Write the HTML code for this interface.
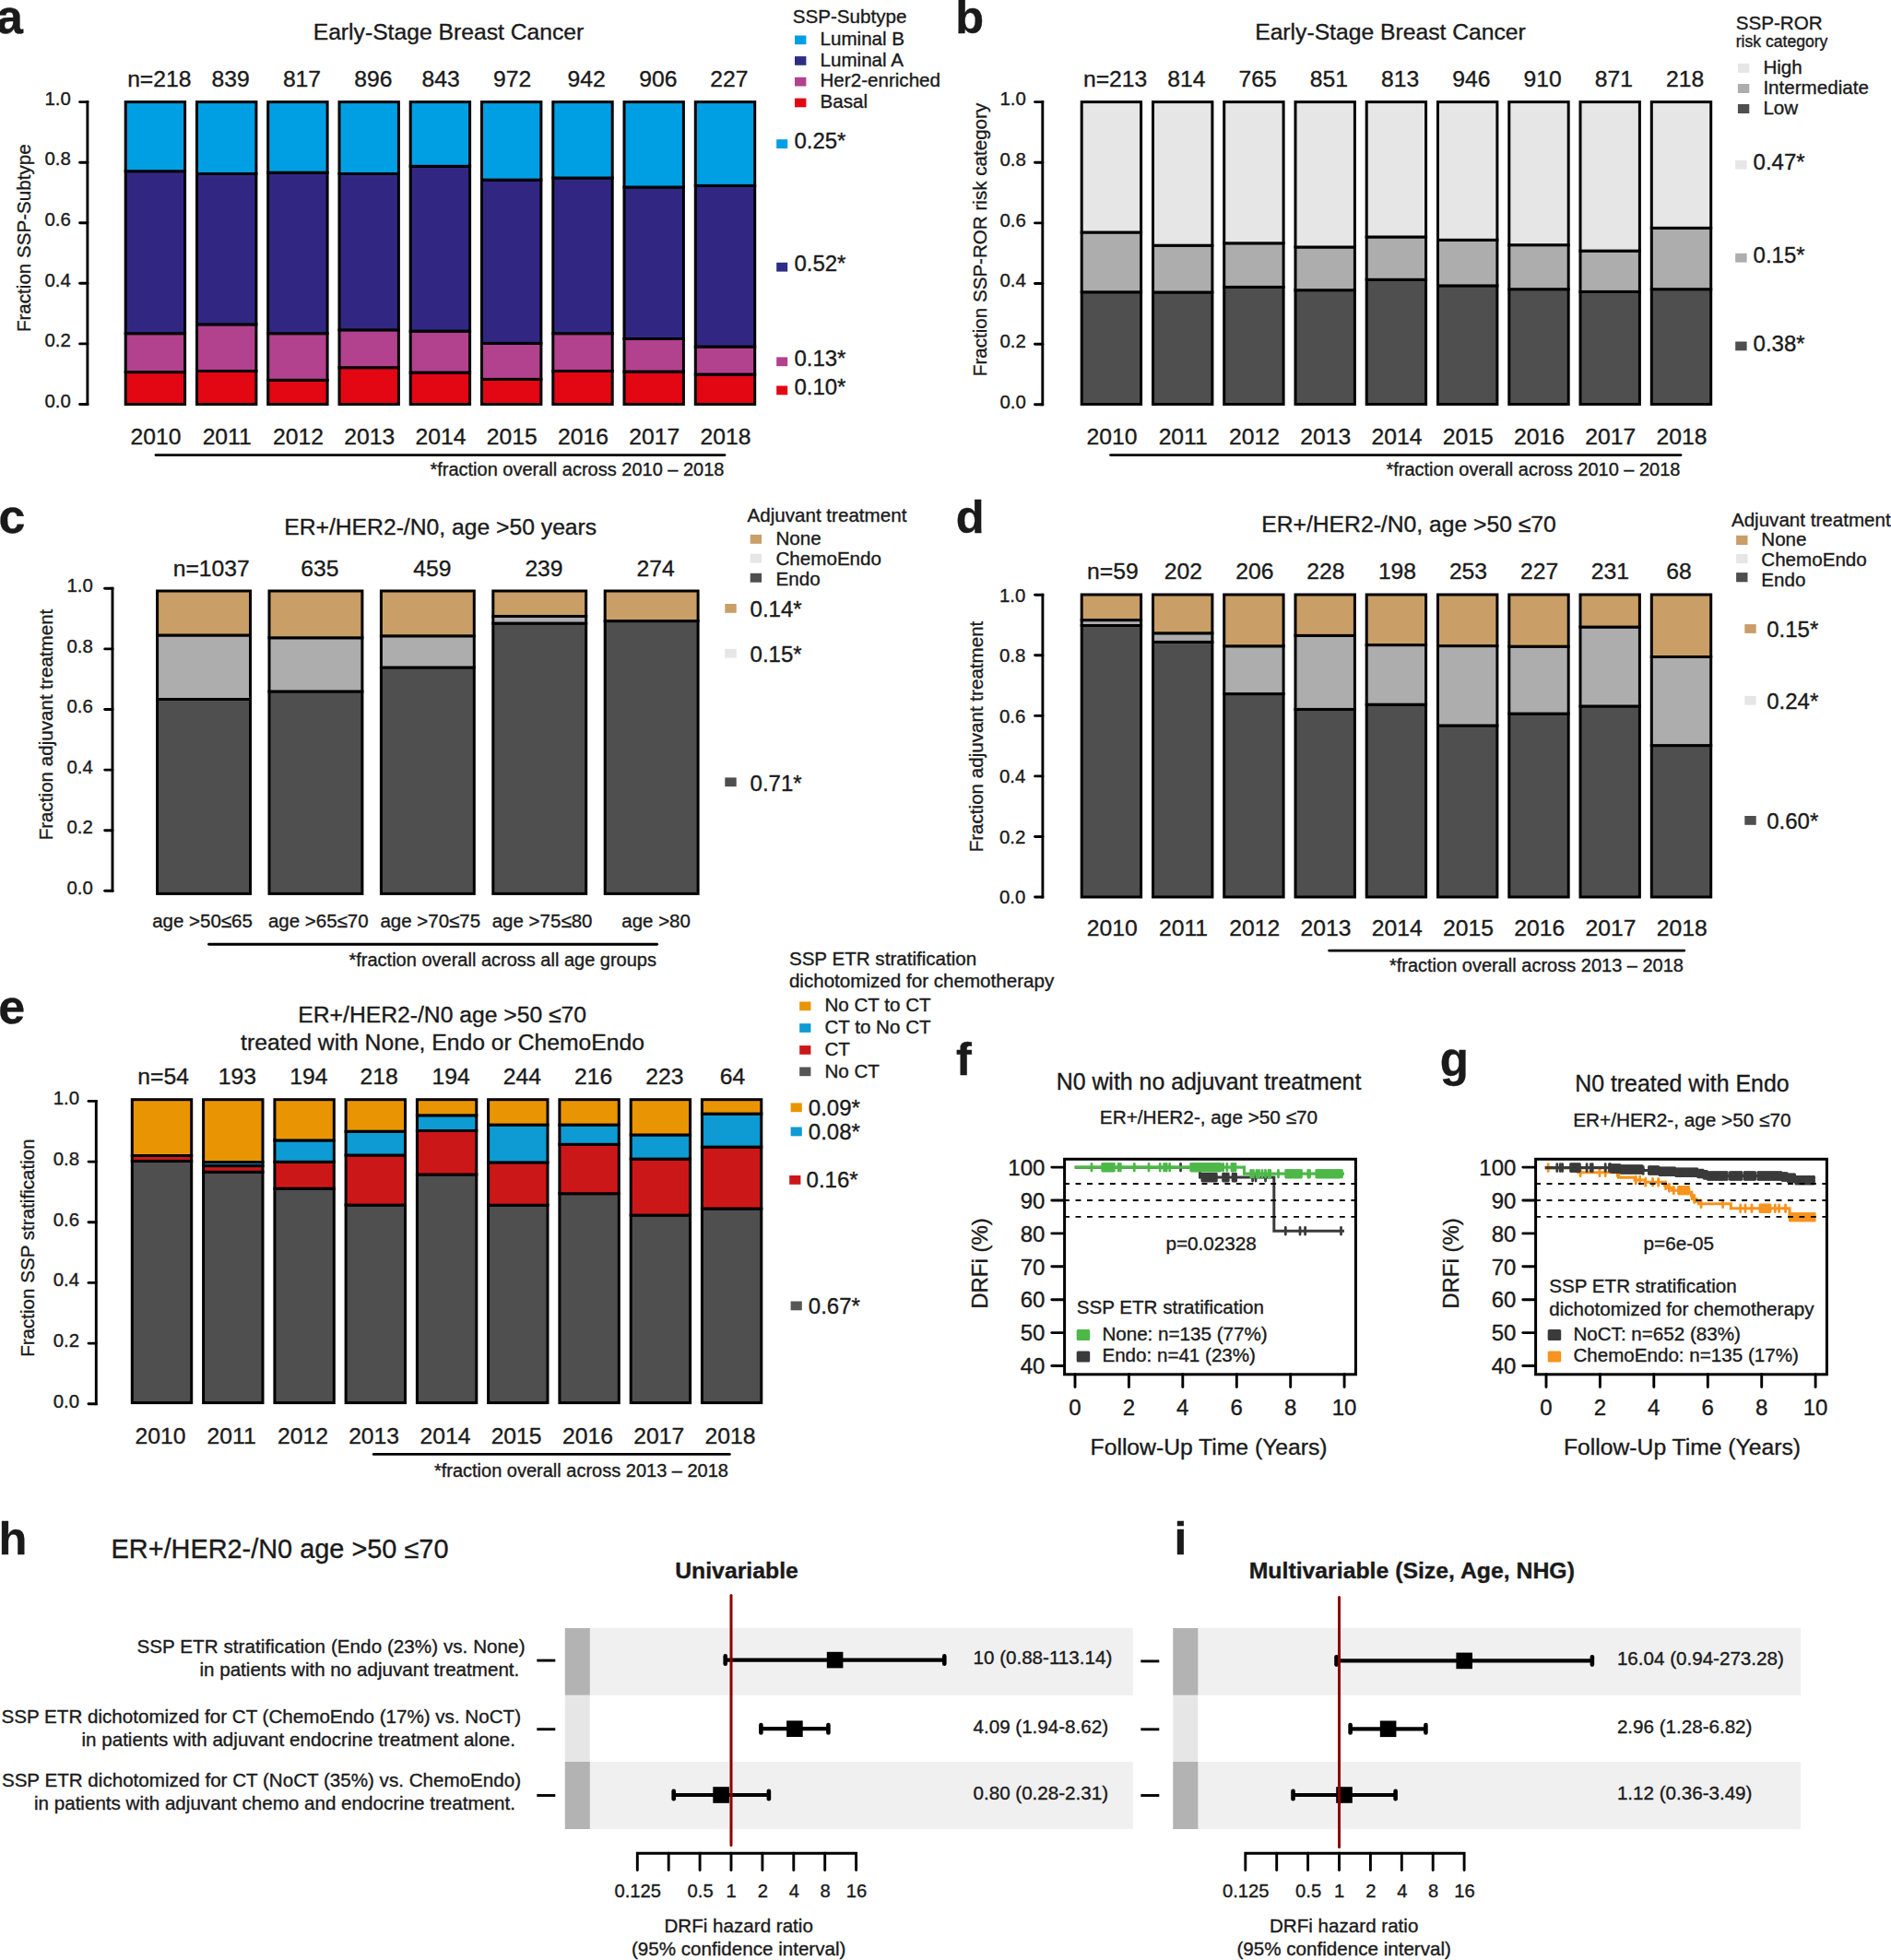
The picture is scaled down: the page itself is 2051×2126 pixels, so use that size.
<!DOCTYPE html>
<html lang="en"><head><meta charset="utf-8"><title>Figure</title>
<style>html,body{margin:0;padding:0;background:#fff;overflow:hidden}svg{display:block}text{stroke:#1a1a1a;stroke-width:.35px}</style></head>
<body>
<svg width="2051" height="2126" viewBox="0 0 2051 2126" font-family="'Liberation Sans', sans-serif" fill="#1a1a1a">
<text x="-4.0" y="36.0" font-size="52" font-weight="bold">a</text>
<text x="486.5" y="42.6" font-size="24.7" text-anchor="middle">Early-Stage Breast Cancer</text>
<rect x="136.2" y="403.6" width="64.4" height="34.9" fill="#E30613" stroke="#000" stroke-width="3"/>
<rect x="136.2" y="361.7" width="64.4" height="41.9" fill="#B2418E" stroke="#000" stroke-width="3"/>
<rect x="136.2" y="185.7" width="64.4" height="176.0" fill="#312783" stroke="#000" stroke-width="3"/>
<rect x="136.2" y="110.6" width="64.4" height="75.1" fill="#009FE3" stroke="#000" stroke-width="3"/>
<rect x="213.5" y="402.5" width="64.4" height="36.0" fill="#E30613" stroke="#000" stroke-width="3"/>
<rect x="213.5" y="351.9" width="64.4" height="50.6" fill="#B2418E" stroke="#000" stroke-width="3"/>
<rect x="213.5" y="188.5" width="64.4" height="163.4" fill="#312783" stroke="#000" stroke-width="3"/>
<rect x="213.5" y="110.6" width="64.4" height="77.9" fill="#009FE3" stroke="#000" stroke-width="3"/>
<rect x="290.7" y="412.3" width="64.4" height="26.2" fill="#E30613" stroke="#000" stroke-width="3"/>
<rect x="290.7" y="361.7" width="64.4" height="50.6" fill="#B2418E" stroke="#000" stroke-width="3"/>
<rect x="290.7" y="187.2" width="64.4" height="174.5" fill="#312783" stroke="#000" stroke-width="3"/>
<rect x="290.7" y="110.6" width="64.4" height="76.6" fill="#009FE3" stroke="#000" stroke-width="3"/>
<rect x="368.0" y="398.7" width="64.4" height="39.8" fill="#E30613" stroke="#000" stroke-width="3"/>
<rect x="368.0" y="357.9" width="64.4" height="40.8" fill="#B2418E" stroke="#000" stroke-width="3"/>
<rect x="368.0" y="188.5" width="64.4" height="169.4" fill="#312783" stroke="#000" stroke-width="3"/>
<rect x="368.0" y="110.6" width="64.4" height="77.9" fill="#009FE3" stroke="#000" stroke-width="3"/>
<rect x="445.2" y="404.1" width="64.4" height="34.4" fill="#E30613" stroke="#000" stroke-width="3"/>
<rect x="445.2" y="359.2" width="64.4" height="44.9" fill="#B2418E" stroke="#000" stroke-width="3"/>
<rect x="445.2" y="180.3" width="64.4" height="178.9" fill="#312783" stroke="#000" stroke-width="3"/>
<rect x="445.2" y="110.6" width="64.4" height="69.7" fill="#009FE3" stroke="#000" stroke-width="3"/>
<rect x="522.5" y="411.4" width="64.4" height="27.1" fill="#E30613" stroke="#000" stroke-width="3"/>
<rect x="522.5" y="372.4" width="64.4" height="39.0" fill="#B2418E" stroke="#000" stroke-width="3"/>
<rect x="522.5" y="195.1" width="64.4" height="177.3" fill="#312783" stroke="#000" stroke-width="3"/>
<rect x="522.5" y="110.6" width="64.4" height="84.5" fill="#009FE3" stroke="#000" stroke-width="3"/>
<rect x="599.8" y="402.5" width="64.4" height="36.0" fill="#E30613" stroke="#000" stroke-width="3"/>
<rect x="599.8" y="361.7" width="64.4" height="40.8" fill="#B2418E" stroke="#000" stroke-width="3"/>
<rect x="599.8" y="193.0" width="64.4" height="168.7" fill="#312783" stroke="#000" stroke-width="3"/>
<rect x="599.8" y="110.6" width="64.4" height="82.4" fill="#009FE3" stroke="#000" stroke-width="3"/>
<rect x="677.0" y="403.1" width="64.4" height="35.4" fill="#E30613" stroke="#000" stroke-width="3"/>
<rect x="677.0" y="367.5" width="64.4" height="35.6" fill="#B2418E" stroke="#000" stroke-width="3"/>
<rect x="677.0" y="203.0" width="64.4" height="164.5" fill="#312783" stroke="#000" stroke-width="3"/>
<rect x="677.0" y="110.6" width="64.4" height="92.4" fill="#009FE3" stroke="#000" stroke-width="3"/>
<rect x="754.3" y="406.1" width="64.4" height="32.4" fill="#E30613" stroke="#000" stroke-width="3"/>
<rect x="754.3" y="376.1" width="64.4" height="30.0" fill="#B2418E" stroke="#000" stroke-width="3"/>
<rect x="754.3" y="201.4" width="64.4" height="174.7" fill="#312783" stroke="#000" stroke-width="3"/>
<rect x="754.3" y="110.6" width="64.4" height="90.8" fill="#009FE3" stroke="#000" stroke-width="3"/>
<line x1="94.9" y1="109.1" x2="94.9" y2="439.9" stroke="#000" stroke-width="2.9"/>
<line x1="86.6" y1="438.5" x2="94.9" y2="438.5" stroke="#000" stroke-width="2.9" stroke-linecap="round"/>
<text x="76.9" y="441.7" font-size="20.4" text-anchor="end">0.0</text>
<line x1="86.6" y1="372.9" x2="94.9" y2="372.9" stroke="#000" stroke-width="2.9" stroke-linecap="round"/>
<text x="76.9" y="376.1" font-size="20.4" text-anchor="end">0.2</text>
<line x1="86.6" y1="307.3" x2="94.9" y2="307.3" stroke="#000" stroke-width="2.9" stroke-linecap="round"/>
<text x="76.9" y="310.5" font-size="20.4" text-anchor="end">0.4</text>
<line x1="86.6" y1="241.8" x2="94.9" y2="241.8" stroke="#000" stroke-width="2.9" stroke-linecap="round"/>
<text x="76.9" y="245.0" font-size="20.4" text-anchor="end">0.6</text>
<line x1="86.6" y1="176.2" x2="94.9" y2="176.2" stroke="#000" stroke-width="2.9" stroke-linecap="round"/>
<text x="76.9" y="179.4" font-size="20.4" text-anchor="end">0.8</text>
<line x1="86.6" y1="110.6" x2="94.9" y2="110.6" stroke="#000" stroke-width="2.9" stroke-linecap="round"/>
<text x="76.9" y="113.8" font-size="20.4" text-anchor="end">1.0</text>
<text x="33.5" y="258.2" font-size="20.6" text-anchor="middle" transform="rotate(-90 33.5 258.2)">Fraction SSP-Subtype</text>
<text x="172.8" y="94.0" font-size="24.7" text-anchor="middle">n=218</text>
<text x="168.9" y="481.7" font-size="24.7" text-anchor="middle">2010</text>
<text x="250.2" y="94.0" font-size="24.7" text-anchor="middle">839</text>
<text x="246.2" y="481.7" font-size="24.7" text-anchor="middle">2011</text>
<text x="327.5" y="94.0" font-size="24.7" text-anchor="middle">817</text>
<text x="323.4" y="481.7" font-size="24.7" text-anchor="middle">2012</text>
<text x="404.8" y="94.0" font-size="24.7" text-anchor="middle">896</text>
<text x="400.7" y="481.7" font-size="24.7" text-anchor="middle">2013</text>
<text x="478.2" y="94.0" font-size="24.7" text-anchor="middle">843</text>
<text x="477.9" y="481.7" font-size="24.7" text-anchor="middle">2014</text>
<text x="555.6" y="94.0" font-size="24.7" text-anchor="middle">972</text>
<text x="555.2" y="481.7" font-size="24.7" text-anchor="middle">2015</text>
<text x="636.2" y="94.0" font-size="24.7" text-anchor="middle">942</text>
<text x="632.5" y="481.7" font-size="24.7" text-anchor="middle">2016</text>
<text x="713.8" y="94.0" font-size="24.7" text-anchor="middle">906</text>
<text x="709.7" y="481.7" font-size="24.7" text-anchor="middle">2017</text>
<text x="790.8" y="94.0" font-size="24.7" text-anchor="middle">227</text>
<text x="787.0" y="481.7" font-size="24.7" text-anchor="middle">2018</text>
<line x1="169.0" y1="493.6" x2="786.0" y2="493.6" stroke="#000" stroke-width="2.9" stroke-linecap="round"/>
<text x="785.5" y="515.6" font-size="20" text-anchor="end">*fraction overall across 2010 – 2018</text>
<text x="859.8" y="25.3" font-size="20.6">SSP-Subtype</text>
<rect x="862.0" y="38.5" width="12.4" height="9.7" fill="#009FE3"/>
<text x="889.5" y="49.0" font-size="20.6">Luminal B</text>
<rect x="862.0" y="61.1" width="12.4" height="9.7" fill="#2D2E83"/>
<text x="889.5" y="71.7" font-size="20.6">Luminal A</text>
<rect x="862.0" y="83.8" width="12.4" height="9.7" fill="#B2418E"/>
<text x="889.5" y="94.4" font-size="20.6">Her2-enriched</text>
<rect x="862.0" y="106.6" width="12.4" height="9.7" fill="#E30613"/>
<text x="889.5" y="117.1" font-size="20.6">Basal</text>
<rect x="842.2" y="151.2" width="12.0" height="9.8" fill="#009FE3"/>
<text x="861.4" y="160.8" font-size="24">0.25*</text>
<rect x="842.2" y="284.8" width="12.0" height="9.8" fill="#2D2E83"/>
<text x="861.4" y="294.4" font-size="24">0.52*</text>
<rect x="842.2" y="387.4" width="12.0" height="9.8" fill="#B2418E"/>
<text x="861.4" y="397.0" font-size="24">0.13*</text>
<rect x="842.2" y="418.5" width="12.0" height="9.8" fill="#E30613"/>
<text x="861.4" y="428.1" font-size="24">0.10*</text>
<text x="1036.3" y="35.5" font-size="50.5" font-weight="bold">b</text>
<text x="1508.0" y="42.6" font-size="24.7" text-anchor="middle">Early-Stage Breast Cancer</text>
<rect x="1173.2" y="316.8" width="64.4" height="121.7" fill="#4F4F4F" stroke="#000" stroke-width="3"/>
<rect x="1173.2" y="252.0" width="64.4" height="64.8" fill="#ADADAD" stroke="#000" stroke-width="3"/>
<rect x="1173.2" y="110.6" width="64.4" height="141.4" fill="#E6E6E6" stroke="#000" stroke-width="3"/>
<rect x="1250.5" y="317.0" width="64.4" height="121.5" fill="#4F4F4F" stroke="#000" stroke-width="3"/>
<rect x="1250.5" y="266.2" width="64.4" height="50.8" fill="#ADADAD" stroke="#000" stroke-width="3"/>
<rect x="1250.5" y="110.6" width="64.4" height="155.6" fill="#E6E6E6" stroke="#000" stroke-width="3"/>
<rect x="1327.7" y="311.4" width="64.4" height="127.1" fill="#4F4F4F" stroke="#000" stroke-width="3"/>
<rect x="1327.7" y="263.8" width="64.4" height="47.6" fill="#ADADAD" stroke="#000" stroke-width="3"/>
<rect x="1327.7" y="110.6" width="64.4" height="153.2" fill="#E6E6E6" stroke="#000" stroke-width="3"/>
<rect x="1405.0" y="314.7" width="64.4" height="123.8" fill="#4F4F4F" stroke="#000" stroke-width="3"/>
<rect x="1405.0" y="268.0" width="64.4" height="46.7" fill="#ADADAD" stroke="#000" stroke-width="3"/>
<rect x="1405.0" y="110.6" width="64.4" height="157.4" fill="#E6E6E6" stroke="#000" stroke-width="3"/>
<rect x="1482.2" y="303.3" width="64.4" height="135.2" fill="#4F4F4F" stroke="#000" stroke-width="3"/>
<rect x="1482.2" y="257.0" width="64.4" height="46.3" fill="#ADADAD" stroke="#000" stroke-width="3"/>
<rect x="1482.2" y="110.6" width="64.4" height="146.4" fill="#E6E6E6" stroke="#000" stroke-width="3"/>
<rect x="1559.5" y="309.9" width="64.4" height="128.6" fill="#4F4F4F" stroke="#000" stroke-width="3"/>
<rect x="1559.5" y="260.3" width="64.4" height="49.6" fill="#ADADAD" stroke="#000" stroke-width="3"/>
<rect x="1559.5" y="110.6" width="64.4" height="149.7" fill="#E6E6E6" stroke="#000" stroke-width="3"/>
<rect x="1636.8" y="313.7" width="64.4" height="124.8" fill="#4F4F4F" stroke="#000" stroke-width="3"/>
<rect x="1636.8" y="265.7" width="64.4" height="48.0" fill="#ADADAD" stroke="#000" stroke-width="3"/>
<rect x="1636.8" y="110.6" width="64.4" height="155.1" fill="#E6E6E6" stroke="#000" stroke-width="3"/>
<rect x="1714.0" y="316.4" width="64.4" height="122.1" fill="#4F4F4F" stroke="#000" stroke-width="3"/>
<rect x="1714.0" y="272.1" width="64.4" height="44.3" fill="#ADADAD" stroke="#000" stroke-width="3"/>
<rect x="1714.0" y="110.6" width="64.4" height="161.5" fill="#E6E6E6" stroke="#000" stroke-width="3"/>
<rect x="1791.3" y="313.7" width="64.4" height="124.8" fill="#4F4F4F" stroke="#000" stroke-width="3"/>
<rect x="1791.3" y="247.3" width="64.4" height="66.4" fill="#ADADAD" stroke="#000" stroke-width="3"/>
<rect x="1791.3" y="110.6" width="64.4" height="136.7" fill="#E6E6E6" stroke="#000" stroke-width="3"/>
<line x1="1130.8" y1="109.1" x2="1130.8" y2="440.2" stroke="#000" stroke-width="2.9"/>
<line x1="1122.5" y1="438.8" x2="1130.8" y2="438.8" stroke="#000" stroke-width="2.9" stroke-linecap="round"/>
<text x="1112.8" y="442.6" font-size="20.4" text-anchor="end">0.0</text>
<line x1="1122.5" y1="373.2" x2="1130.8" y2="373.2" stroke="#000" stroke-width="2.9" stroke-linecap="round"/>
<text x="1112.8" y="377.0" font-size="20.4" text-anchor="end">0.2</text>
<line x1="1122.5" y1="307.5" x2="1130.8" y2="307.5" stroke="#000" stroke-width="2.9" stroke-linecap="round"/>
<text x="1112.8" y="311.3" font-size="20.4" text-anchor="end">0.4</text>
<line x1="1122.5" y1="241.9" x2="1130.8" y2="241.9" stroke="#000" stroke-width="2.9" stroke-linecap="round"/>
<text x="1112.8" y="245.7" font-size="20.4" text-anchor="end">0.6</text>
<line x1="1122.5" y1="176.2" x2="1130.8" y2="176.2" stroke="#000" stroke-width="2.9" stroke-linecap="round"/>
<text x="1112.8" y="180.0" font-size="20.4" text-anchor="end">0.8</text>
<line x1="1122.5" y1="110.6" x2="1130.8" y2="110.6" stroke="#000" stroke-width="2.9" stroke-linecap="round"/>
<text x="1112.8" y="114.4" font-size="20.4" text-anchor="end">1.0</text>
<text x="1069.5" y="260.0" font-size="20.6" text-anchor="middle" transform="rotate(-90 1069.5 260.0)">Fraction SSP-ROR risk category</text>
<text x="1209.6" y="94.0" font-size="24.7" text-anchor="middle">n=213</text>
<text x="1205.9" y="481.7" font-size="24.7" text-anchor="middle">2010</text>
<text x="1286.9" y="94.0" font-size="24.7" text-anchor="middle">814</text>
<text x="1283.2" y="481.7" font-size="24.7" text-anchor="middle">2011</text>
<text x="1364.1" y="94.0" font-size="24.7" text-anchor="middle">765</text>
<text x="1360.4" y="481.7" font-size="24.7" text-anchor="middle">2012</text>
<text x="1441.4" y="94.0" font-size="24.7" text-anchor="middle">851</text>
<text x="1437.7" y="481.7" font-size="24.7" text-anchor="middle">2013</text>
<text x="1518.6" y="94.0" font-size="24.7" text-anchor="middle">813</text>
<text x="1514.9" y="481.7" font-size="24.7" text-anchor="middle">2014</text>
<text x="1595.9" y="94.0" font-size="24.7" text-anchor="middle">946</text>
<text x="1592.2" y="481.7" font-size="24.7" text-anchor="middle">2015</text>
<text x="1673.2" y="94.0" font-size="24.7" text-anchor="middle">910</text>
<text x="1669.5" y="481.7" font-size="24.7" text-anchor="middle">2016</text>
<text x="1750.4" y="94.0" font-size="24.7" text-anchor="middle">871</text>
<text x="1746.7" y="481.7" font-size="24.7" text-anchor="middle">2017</text>
<text x="1827.7" y="94.0" font-size="24.7" text-anchor="middle">218</text>
<text x="1824.0" y="481.7" font-size="24.7" text-anchor="middle">2018</text>
<line x1="1204.6" y1="493.6" x2="1823.0" y2="493.6" stroke="#000" stroke-width="2.9" stroke-linecap="round"/>
<text x="1822.5" y="515.6" font-size="20" text-anchor="end">*fraction overall across 2010 – 2018</text>
<text x="1882.7" y="31.5" font-size="20.6">SSP-ROR</text>
<text x="1882.7" y="51.4" font-size="17.6">risk category</text>
<rect x="1884.9" y="68.9" width="12.4" height="10.0" fill="#E6E6E6"/>
<text x="1912.4" y="79.8" font-size="20.6">High</text>
<rect x="1884.9" y="91.0" width="12.4" height="10.0" fill="#ADADAD"/>
<text x="1912.4" y="101.9" font-size="20.6">Intermediate</text>
<rect x="1884.9" y="113.0" width="12.4" height="10.0" fill="#4F4F4F"/>
<text x="1912.4" y="124.0" font-size="20.6">Low</text>
<rect x="1882.2" y="173.8" width="12.4" height="9.8" fill="#E6E6E6"/>
<text x="1901.6" y="184.1" font-size="24">0.47*</text>
<rect x="1882.2" y="274.8" width="12.4" height="9.8" fill="#ADADAD"/>
<text x="1901.6" y="285.1" font-size="24">0.15*</text>
<rect x="1882.2" y="370.5" width="12.4" height="9.8" fill="#4F4F4F"/>
<text x="1901.6" y="380.8" font-size="24">0.38*</text>
<text x="-1.5" y="578.4" font-size="52" font-weight="bold">c</text>
<text x="477.7" y="580.0" font-size="24.7" text-anchor="middle">ER+/HER2-/N0, age &gt;50 years</text>
<rect x="170.6" y="758.5" width="100.9" height="210.9" fill="#4F4F4F" stroke="#000" stroke-width="3"/>
<rect x="170.6" y="689.0" width="100.9" height="69.5" fill="#ADADAD" stroke="#000" stroke-width="3"/>
<rect x="170.6" y="641.0" width="100.9" height="48.0" fill="#C99E67" stroke="#000" stroke-width="3"/>
<rect x="292.0" y="750.0" width="100.9" height="219.4" fill="#4F4F4F" stroke="#000" stroke-width="3"/>
<rect x="292.0" y="691.8" width="100.9" height="58.2" fill="#ADADAD" stroke="#000" stroke-width="3"/>
<rect x="292.0" y="641.0" width="100.9" height="50.8" fill="#C99E67" stroke="#000" stroke-width="3"/>
<rect x="413.4" y="724.0" width="100.9" height="245.4" fill="#4F4F4F" stroke="#000" stroke-width="3"/>
<rect x="413.4" y="689.8" width="100.9" height="34.2" fill="#ADADAD" stroke="#000" stroke-width="3"/>
<rect x="413.4" y="641.0" width="100.9" height="48.8" fill="#C99E67" stroke="#000" stroke-width="3"/>
<rect x="534.8" y="676.1" width="100.9" height="293.3" fill="#4F4F4F" stroke="#000" stroke-width="3"/>
<rect x="534.8" y="668.5" width="100.9" height="7.6" fill="#ADADAD" stroke="#000" stroke-width="3"/>
<rect x="534.8" y="641.0" width="100.9" height="27.5" fill="#C99E67" stroke="#000" stroke-width="3"/>
<rect x="656.2" y="673.6" width="100.9" height="295.8" fill="#4F4F4F" stroke="#000" stroke-width="3"/>
<rect x="656.2" y="641.0" width="100.9" height="32.6" fill="#C99E67" stroke="#000" stroke-width="3"/>
<line x1="122.0" y1="636.8" x2="122.0" y2="967.8" stroke="#000" stroke-width="2.9"/>
<line x1="113.7" y1="966.3" x2="122.0" y2="966.3" stroke="#000" stroke-width="2.9" stroke-linecap="round"/>
<text x="100.8" y="969.9" font-size="20.4" text-anchor="end">0.0</text>
<line x1="113.7" y1="900.7" x2="122.0" y2="900.7" stroke="#000" stroke-width="2.9" stroke-linecap="round"/>
<text x="100.8" y="904.3" font-size="20.4" text-anchor="end">0.2</text>
<line x1="113.7" y1="835.1" x2="122.0" y2="835.1" stroke="#000" stroke-width="2.9" stroke-linecap="round"/>
<text x="100.8" y="838.7" font-size="20.4" text-anchor="end">0.4</text>
<line x1="113.7" y1="769.5" x2="122.0" y2="769.5" stroke="#000" stroke-width="2.9" stroke-linecap="round"/>
<text x="100.8" y="773.1" font-size="20.4" text-anchor="end">0.6</text>
<line x1="113.7" y1="703.9" x2="122.0" y2="703.9" stroke="#000" stroke-width="2.9" stroke-linecap="round"/>
<text x="100.8" y="707.5" font-size="20.4" text-anchor="end">0.8</text>
<line x1="113.7" y1="638.3" x2="122.0" y2="638.3" stroke="#000" stroke-width="2.9" stroke-linecap="round"/>
<text x="100.8" y="641.9" font-size="20.4" text-anchor="end">1.0</text>
<text x="56.5" y="786.0" font-size="20.6" text-anchor="middle" transform="rotate(-90 56.5 786.0)">Fraction adjuvant treatment</text>
<text x="229.2" y="624.5" font-size="24.7" text-anchor="middle">n=1037</text>
<text x="219.5" y="1005.6" font-size="20.5" text-anchor="middle">age &gt;50≤65</text>
<text x="346.8" y="624.5" font-size="24.7" text-anchor="middle">635</text>
<text x="345.3" y="1005.6" font-size="20.5" text-anchor="middle">age &gt;65≤70</text>
<text x="468.9" y="624.5" font-size="24.7" text-anchor="middle">459</text>
<text x="466.8" y="1005.6" font-size="20.5" text-anchor="middle">age &gt;70≤75</text>
<text x="590.0" y="624.5" font-size="24.7" text-anchor="middle">239</text>
<text x="588.1" y="1005.6" font-size="20.5" text-anchor="middle">age &gt;75≤80</text>
<text x="711.2" y="624.5" font-size="24.7" text-anchor="middle">274</text>
<text x="711.6" y="1005.6" font-size="20.5" text-anchor="middle">age &gt;80</text>
<line x1="226.6" y1="1024.3" x2="712.6" y2="1024.3" stroke="#000" stroke-width="2.9" stroke-linecap="round"/>
<text x="712.0" y="1048.0" font-size="20" text-anchor="end">*fraction overall across all age groups</text>
<text x="810.5" y="565.8" font-size="20.6">Adjuvant treatment</text>
<rect x="813.7" y="579.9" width="12.4" height="9.9" fill="#C99E67"/>
<text x="841.5" y="590.7" font-size="20.6">None</text>
<rect x="813.7" y="600.7" width="12.4" height="9.9" fill="#E6E6E6"/>
<text x="841.5" y="612.8" font-size="20.6">ChemoEndo</text>
<rect x="813.7" y="621.8" width="12.4" height="9.9" fill="#4F4F4F"/>
<text x="841.5" y="634.8" font-size="20.6">Endo</text>
<rect x="786.3" y="655.0" width="12.4" height="9.8" fill="#C99E67"/>
<text x="813.6" y="669.3" font-size="24">0.14*</text>
<rect x="786.3" y="703.8" width="12.4" height="9.8" fill="#E6E6E6"/>
<text x="813.6" y="718.1" font-size="24">0.15*</text>
<rect x="786.3" y="843.4" width="12.4" height="9.8" fill="#4F4F4F"/>
<text x="813.6" y="857.7" font-size="24">0.71*</text>
<text x="1036.7" y="577.7" font-size="50.5" font-weight="bold">d</text>
<text x="1528.0" y="576.8" font-size="24.7" text-anchor="middle">ER+/HER2-/N0, age &gt;50 ≤70</text>
<rect x="1173.2" y="678.5" width="64.4" height="294.5" fill="#4F4F4F" stroke="#000" stroke-width="3"/>
<rect x="1173.2" y="672.6" width="64.4" height="5.9" fill="#ADADAD" stroke="#000" stroke-width="3"/>
<rect x="1173.2" y="645.0" width="64.4" height="27.6" fill="#C99E67" stroke="#000" stroke-width="3"/>
<rect x="1250.5" y="696.4" width="64.4" height="276.6" fill="#4F4F4F" stroke="#000" stroke-width="3"/>
<rect x="1250.5" y="686.8" width="64.4" height="9.6" fill="#ADADAD" stroke="#000" stroke-width="3"/>
<rect x="1250.5" y="645.0" width="64.4" height="41.8" fill="#C99E67" stroke="#000" stroke-width="3"/>
<rect x="1327.7" y="752.6" width="64.4" height="220.4" fill="#4F4F4F" stroke="#000" stroke-width="3"/>
<rect x="1327.7" y="700.8" width="64.4" height="51.8" fill="#ADADAD" stroke="#000" stroke-width="3"/>
<rect x="1327.7" y="645.0" width="64.4" height="55.8" fill="#C99E67" stroke="#000" stroke-width="3"/>
<rect x="1405.0" y="769.4" width="64.4" height="203.6" fill="#4F4F4F" stroke="#000" stroke-width="3"/>
<rect x="1405.0" y="689.4" width="64.4" height="80.0" fill="#ADADAD" stroke="#000" stroke-width="3"/>
<rect x="1405.0" y="645.0" width="64.4" height="44.4" fill="#C99E67" stroke="#000" stroke-width="3"/>
<rect x="1482.2" y="764.2" width="64.4" height="208.8" fill="#4F4F4F" stroke="#000" stroke-width="3"/>
<rect x="1482.2" y="699.6" width="64.4" height="64.6" fill="#ADADAD" stroke="#000" stroke-width="3"/>
<rect x="1482.2" y="645.0" width="64.4" height="54.6" fill="#C99E67" stroke="#000" stroke-width="3"/>
<rect x="1559.5" y="787.0" width="64.4" height="186.0" fill="#4F4F4F" stroke="#000" stroke-width="3"/>
<rect x="1559.5" y="700.6" width="64.4" height="86.4" fill="#ADADAD" stroke="#000" stroke-width="3"/>
<rect x="1559.5" y="645.0" width="64.4" height="55.6" fill="#C99E67" stroke="#000" stroke-width="3"/>
<rect x="1636.8" y="774.1" width="64.4" height="198.9" fill="#4F4F4F" stroke="#000" stroke-width="3"/>
<rect x="1636.8" y="701.2" width="64.4" height="72.9" fill="#ADADAD" stroke="#000" stroke-width="3"/>
<rect x="1636.8" y="645.0" width="64.4" height="56.2" fill="#C99E67" stroke="#000" stroke-width="3"/>
<rect x="1714.0" y="766.0" width="64.4" height="207.0" fill="#4F4F4F" stroke="#000" stroke-width="3"/>
<rect x="1714.0" y="680.1" width="64.4" height="85.9" fill="#ADADAD" stroke="#000" stroke-width="3"/>
<rect x="1714.0" y="645.0" width="64.4" height="35.1" fill="#C99E67" stroke="#000" stroke-width="3"/>
<rect x="1791.3" y="808.6" width="64.4" height="164.4" fill="#4F4F4F" stroke="#000" stroke-width="3"/>
<rect x="1791.3" y="712.5" width="64.4" height="96.1" fill="#ADADAD" stroke="#000" stroke-width="3"/>
<rect x="1791.3" y="645.0" width="64.4" height="67.5" fill="#C99E67" stroke="#000" stroke-width="3"/>
<line x1="1130.9" y1="643.8" x2="1130.9" y2="974.5" stroke="#000" stroke-width="2.9"/>
<line x1="1122.6" y1="973.0" x2="1130.9" y2="973.0" stroke="#000" stroke-width="2.9" stroke-linecap="round"/>
<text x="1112.3" y="980.4" font-size="20.4" text-anchor="end">0.0</text>
<line x1="1122.6" y1="907.5" x2="1130.9" y2="907.5" stroke="#000" stroke-width="2.9" stroke-linecap="round"/>
<text x="1112.3" y="914.9" font-size="20.4" text-anchor="end">0.2</text>
<line x1="1122.6" y1="841.9" x2="1130.9" y2="841.9" stroke="#000" stroke-width="2.9" stroke-linecap="round"/>
<text x="1112.3" y="849.3" font-size="20.4" text-anchor="end">0.4</text>
<line x1="1122.6" y1="776.4" x2="1130.9" y2="776.4" stroke="#000" stroke-width="2.9" stroke-linecap="round"/>
<text x="1112.3" y="783.8" font-size="20.4" text-anchor="end">0.6</text>
<line x1="1122.6" y1="710.8" x2="1130.9" y2="710.8" stroke="#000" stroke-width="2.9" stroke-linecap="round"/>
<text x="1112.3" y="718.2" font-size="20.4" text-anchor="end">0.8</text>
<line x1="1122.6" y1="645.3" x2="1130.9" y2="645.3" stroke="#000" stroke-width="2.9" stroke-linecap="round"/>
<text x="1112.3" y="652.7" font-size="20.4" text-anchor="end">1.0</text>
<text x="1066.3" y="799.0" font-size="20.6" text-anchor="middle" transform="rotate(-90 1066.3 799.0)">Fraction adjuvant treatment</text>
<text x="1206.9" y="627.8" font-size="24.7" text-anchor="middle">n=59</text>
<text x="1206.2" y="1014.6" font-size="24.7" text-anchor="middle">2010</text>
<text x="1283.4" y="627.8" font-size="24.7" text-anchor="middle">202</text>
<text x="1283.5" y="1014.6" font-size="24.7" text-anchor="middle">2011</text>
<text x="1360.8" y="627.8" font-size="24.7" text-anchor="middle">206</text>
<text x="1360.7" y="1014.6" font-size="24.7" text-anchor="middle">2012</text>
<text x="1437.8" y="627.8" font-size="24.7" text-anchor="middle">228</text>
<text x="1438.0" y="1014.6" font-size="24.7" text-anchor="middle">2013</text>
<text x="1515.5" y="627.8" font-size="24.7" text-anchor="middle">198</text>
<text x="1515.2" y="1014.6" font-size="24.7" text-anchor="middle">2014</text>
<text x="1592.5" y="627.8" font-size="24.7" text-anchor="middle">253</text>
<text x="1592.5" y="1014.6" font-size="24.7" text-anchor="middle">2015</text>
<text x="1669.7" y="627.8" font-size="24.7" text-anchor="middle">227</text>
<text x="1669.8" y="1014.6" font-size="24.7" text-anchor="middle">2016</text>
<text x="1746.3" y="627.8" font-size="24.7" text-anchor="middle">231</text>
<text x="1747.0" y="1014.6" font-size="24.7" text-anchor="middle">2017</text>
<text x="1821.1" y="627.8" font-size="24.7" text-anchor="middle">68</text>
<text x="1824.3" y="1014.6" font-size="24.7" text-anchor="middle">2018</text>
<line x1="1441.6" y1="1031.1" x2="1826.8" y2="1031.1" stroke="#000" stroke-width="2.9" stroke-linecap="round"/>
<text x="1826.0" y="1053.8" font-size="20" text-anchor="end">*fraction overall across 2013 – 2018</text>
<text x="1877.9" y="570.6" font-size="20.6">Adjuvant treatment</text>
<rect x="1883.1" y="580.8" width="12.4" height="10.2" fill="#C99E67"/>
<text x="1910.3" y="592.2" font-size="20.6">None</text>
<rect x="1883.1" y="600.9" width="12.4" height="10.2" fill="#E6E6E6"/>
<text x="1910.3" y="614.3" font-size="20.6">ChemoEndo</text>
<rect x="1883.1" y="621.1" width="12.4" height="10.2" fill="#4F4F4F"/>
<text x="1910.3" y="636.4" font-size="20.6">Endo</text>
<rect x="1892.3" y="677.1" width="12.4" height="9.8" fill="#C99E67"/>
<text x="1916.2" y="691.4" font-size="24">0.15*</text>
<rect x="1892.3" y="754.9" width="12.4" height="9.8" fill="#E6E6E6"/>
<text x="1916.2" y="769.2" font-size="24">0.24*</text>
<rect x="1892.3" y="885.0" width="12.4" height="9.8" fill="#4F4F4F"/>
<text x="1916.2" y="899.3" font-size="24">0.60*</text>
<text x="-1.7" y="1109.5" font-size="52" font-weight="bold">e</text>
<text x="479.7" y="1109.0" font-size="24.7" text-anchor="middle">ER+/HER2-/N0 age &gt;50 ≤70</text>
<text x="480.0" y="1138.5" font-size="24.7" text-anchor="middle">treated with None, Endo or ChemoEndo</text>
<rect x="143.3" y="1259.5" width="64.4" height="262.1" fill="#4F4F4F" stroke="#000" stroke-width="3"/>
<rect x="143.3" y="1253.5" width="64.4" height="6.0" fill="#CC1719" stroke="#000" stroke-width="3"/>
<rect x="143.3" y="1192.7" width="64.4" height="60.8" fill="#E99503" stroke="#000" stroke-width="3"/>
<rect x="220.6" y="1271.2" width="64.4" height="250.4" fill="#4F4F4F" stroke="#000" stroke-width="3"/>
<rect x="220.6" y="1264.6" width="64.4" height="6.6" fill="#CC1719" stroke="#000" stroke-width="3"/>
<rect x="220.6" y="1260.6" width="64.4" height="4.0" fill="#0E9AD2" stroke="#000" stroke-width="3"/>
<rect x="220.6" y="1192.7" width="64.4" height="67.9" fill="#E99503" stroke="#000" stroke-width="3"/>
<rect x="297.9" y="1289.2" width="64.4" height="232.4" fill="#4F4F4F" stroke="#000" stroke-width="3"/>
<rect x="297.9" y="1260.3" width="64.4" height="28.9" fill="#CC1719" stroke="#000" stroke-width="3"/>
<rect x="297.9" y="1236.9" width="64.4" height="23.4" fill="#0E9AD2" stroke="#000" stroke-width="3"/>
<rect x="297.9" y="1192.7" width="64.4" height="44.2" fill="#E99503" stroke="#000" stroke-width="3"/>
<rect x="375.1" y="1307.1" width="64.4" height="214.5" fill="#4F4F4F" stroke="#000" stroke-width="3"/>
<rect x="375.1" y="1253.0" width="64.4" height="54.1" fill="#CC1719" stroke="#000" stroke-width="3"/>
<rect x="375.1" y="1227.2" width="64.4" height="25.8" fill="#0E9AD2" stroke="#000" stroke-width="3"/>
<rect x="375.1" y="1192.7" width="64.4" height="34.5" fill="#E99503" stroke="#000" stroke-width="3"/>
<rect x="452.4" y="1274.0" width="64.4" height="247.6" fill="#4F4F4F" stroke="#000" stroke-width="3"/>
<rect x="452.4" y="1226.5" width="64.4" height="47.5" fill="#CC1719" stroke="#000" stroke-width="3"/>
<rect x="452.4" y="1209.8" width="64.4" height="16.7" fill="#0E9AD2" stroke="#000" stroke-width="3"/>
<rect x="452.4" y="1192.7" width="64.4" height="17.1" fill="#E99503" stroke="#000" stroke-width="3"/>
<rect x="529.6" y="1307.2" width="64.4" height="214.4" fill="#4F4F4F" stroke="#000" stroke-width="3"/>
<rect x="529.6" y="1260.9" width="64.4" height="46.3" fill="#CC1719" stroke="#000" stroke-width="3"/>
<rect x="529.6" y="1220.1" width="64.4" height="40.8" fill="#0E9AD2" stroke="#000" stroke-width="3"/>
<rect x="529.6" y="1192.7" width="64.4" height="27.4" fill="#E99503" stroke="#000" stroke-width="3"/>
<rect x="606.9" y="1294.7" width="64.4" height="226.9" fill="#4F4F4F" stroke="#000" stroke-width="3"/>
<rect x="606.9" y="1241.3" width="64.4" height="53.4" fill="#CC1719" stroke="#000" stroke-width="3"/>
<rect x="606.9" y="1220.1" width="64.4" height="21.2" fill="#0E9AD2" stroke="#000" stroke-width="3"/>
<rect x="606.9" y="1192.7" width="64.4" height="27.4" fill="#E99503" stroke="#000" stroke-width="3"/>
<rect x="684.2" y="1318.1" width="64.4" height="203.5" fill="#4F4F4F" stroke="#000" stroke-width="3"/>
<rect x="684.2" y="1257.1" width="64.4" height="61.0" fill="#CC1719" stroke="#000" stroke-width="3"/>
<rect x="684.2" y="1231.0" width="64.4" height="26.1" fill="#0E9AD2" stroke="#000" stroke-width="3"/>
<rect x="684.2" y="1192.7" width="64.4" height="38.3" fill="#E99503" stroke="#000" stroke-width="3"/>
<rect x="761.4" y="1311.0" width="64.4" height="210.6" fill="#4F4F4F" stroke="#000" stroke-width="3"/>
<rect x="761.4" y="1244.1" width="64.4" height="66.9" fill="#CC1719" stroke="#000" stroke-width="3"/>
<rect x="761.4" y="1208.1" width="64.4" height="36.0" fill="#0E9AD2" stroke="#000" stroke-width="3"/>
<rect x="761.4" y="1192.7" width="64.4" height="15.4" fill="#E99503" stroke="#000" stroke-width="3"/>
<line x1="104.3" y1="1193.0" x2="104.3" y2="1524.2" stroke="#000" stroke-width="2.9"/>
<line x1="96.0" y1="1522.8" x2="104.3" y2="1522.8" stroke="#000" stroke-width="2.9" stroke-linecap="round"/>
<text x="86.0" y="1526.6" font-size="20.4" text-anchor="end">0.0</text>
<line x1="96.0" y1="1457.1" x2="104.3" y2="1457.1" stroke="#000" stroke-width="2.9" stroke-linecap="round"/>
<text x="86.0" y="1460.9" font-size="20.4" text-anchor="end">0.2</text>
<line x1="96.0" y1="1391.4" x2="104.3" y2="1391.4" stroke="#000" stroke-width="2.9" stroke-linecap="round"/>
<text x="86.0" y="1395.2" font-size="20.4" text-anchor="end">0.4</text>
<line x1="96.0" y1="1325.8" x2="104.3" y2="1325.8" stroke="#000" stroke-width="2.9" stroke-linecap="round"/>
<text x="86.0" y="1329.6" font-size="20.4" text-anchor="end">0.6</text>
<line x1="96.0" y1="1260.1" x2="104.3" y2="1260.1" stroke="#000" stroke-width="2.9" stroke-linecap="round"/>
<text x="86.0" y="1263.9" font-size="20.4" text-anchor="end">0.8</text>
<line x1="96.0" y1="1194.4" x2="104.3" y2="1194.4" stroke="#000" stroke-width="2.9" stroke-linecap="round"/>
<text x="86.0" y="1198.2" font-size="20.4" text-anchor="end">1.0</text>
<text x="37.3" y="1353.6" font-size="20.6" text-anchor="middle" transform="rotate(-90 37.3 1353.6)">Fraction SSP stratification</text>
<text x="177.1" y="1176.0" font-size="24.7" text-anchor="middle">n=54</text>
<text x="173.9" y="1566.2" font-size="24.7" text-anchor="middle">2010</text>
<text x="257.4" y="1176.0" font-size="24.7" text-anchor="middle">193</text>
<text x="251.1" y="1566.2" font-size="24.7" text-anchor="middle">2011</text>
<text x="334.9" y="1176.0" font-size="24.7" text-anchor="middle">194</text>
<text x="328.4" y="1566.2" font-size="24.7" text-anchor="middle">2012</text>
<text x="411.1" y="1176.0" font-size="24.7" text-anchor="middle">218</text>
<text x="405.6" y="1566.2" font-size="24.7" text-anchor="middle">2013</text>
<text x="489.2" y="1176.0" font-size="24.7" text-anchor="middle">194</text>
<text x="482.9" y="1566.2" font-size="24.7" text-anchor="middle">2014</text>
<text x="566.4" y="1176.0" font-size="24.7" text-anchor="middle">244</text>
<text x="560.1" y="1566.2" font-size="24.7" text-anchor="middle">2015</text>
<text x="643.6" y="1176.0" font-size="24.7" text-anchor="middle">216</text>
<text x="637.4" y="1566.2" font-size="24.7" text-anchor="middle">2016</text>
<text x="720.8" y="1176.0" font-size="24.7" text-anchor="middle">223</text>
<text x="714.7" y="1566.2" font-size="24.7" text-anchor="middle">2017</text>
<text x="794.5" y="1176.0" font-size="24.7" text-anchor="middle">64</text>
<text x="791.9" y="1566.2" font-size="24.7" text-anchor="middle">2018</text>
<line x1="405.3" y1="1577.4" x2="791.3" y2="1577.4" stroke="#000" stroke-width="2.9" stroke-linecap="round"/>
<text x="790.0" y="1601.9" font-size="20" text-anchor="end">*fraction overall across 2013 – 2018</text>
<text x="855.9" y="1046.6" font-size="20.6">SSP ETR stratification</text>
<text x="855.9" y="1071.3" font-size="20.6">dichotomized for chemotherapy</text>
<rect x="867.2" y="1086.5" width="12.2" height="9.7" fill="#E99503"/>
<text x="894.4" y="1097.0" font-size="20.6">No CT to CT</text>
<rect x="867.2" y="1110.2" width="12.2" height="9.7" fill="#0E9AD2"/>
<text x="894.4" y="1120.8" font-size="20.6">CT to No CT</text>
<rect x="867.2" y="1134.1" width="12.2" height="9.7" fill="#CC1719"/>
<text x="894.4" y="1144.7" font-size="20.6">CT</text>
<rect x="867.2" y="1157.5" width="12.2" height="9.7" fill="#575656"/>
<text x="894.4" y="1168.5" font-size="20.6">No CT</text>
<rect x="857.6" y="1196.4" width="12.2" height="9.8" fill="#E99503"/>
<text x="876.8" y="1209.7" font-size="24">0.09*</text>
<rect x="857.6" y="1222.5" width="12.2" height="9.8" fill="#0E9AD2"/>
<text x="876.8" y="1235.8" font-size="24">0.08*</text>
<rect x="856.2" y="1275.0" width="12.2" height="9.8" fill="#CC1719"/>
<text x="874.6" y="1287.8" font-size="24">0.16*</text>
<rect x="857.6" y="1411.5" width="12.2" height="9.8" fill="#575656"/>
<text x="876.8" y="1424.8" font-size="24">0.67*</text>
<text x="1036.9" y="1166.0" font-size="50.5" font-weight="bold">f</text>
<rect x="1154.6" y="1257.3" width="315.8" height="233.5" fill="none" stroke="#000" stroke-width="3"/>
<line x1="1140.8" y1="1481.5" x2="1154.6" y2="1481.5" stroke="#000" stroke-width="2.9" stroke-linecap="round"/>
<text x="1133.4" y="1490.2" font-size="24" text-anchor="end">40</text>
<line x1="1140.8" y1="1445.6" x2="1154.6" y2="1445.6" stroke="#000" stroke-width="2.9" stroke-linecap="round"/>
<text x="1133.4" y="1454.3" font-size="24" text-anchor="end">50</text>
<line x1="1140.8" y1="1409.7" x2="1154.6" y2="1409.7" stroke="#000" stroke-width="2.9" stroke-linecap="round"/>
<text x="1133.4" y="1418.4" font-size="24" text-anchor="end">60</text>
<line x1="1140.8" y1="1373.8" x2="1154.6" y2="1373.8" stroke="#000" stroke-width="2.9" stroke-linecap="round"/>
<text x="1133.4" y="1382.5" font-size="24" text-anchor="end">70</text>
<line x1="1140.8" y1="1337.9" x2="1154.6" y2="1337.9" stroke="#000" stroke-width="2.9" stroke-linecap="round"/>
<text x="1133.4" y="1346.6" font-size="24" text-anchor="end">80</text>
<line x1="1140.8" y1="1302.0" x2="1154.6" y2="1302.0" stroke="#000" stroke-width="2.9" stroke-linecap="round"/>
<text x="1133.4" y="1310.7" font-size="24" text-anchor="end">90</text>
<line x1="1140.8" y1="1266.1" x2="1154.6" y2="1266.1" stroke="#000" stroke-width="2.9" stroke-linecap="round"/>
<text x="1133.4" y="1274.8" font-size="24" text-anchor="end">100</text>
<line x1="1166.0" y1="1490.8" x2="1166.0" y2="1504.6" stroke="#000" stroke-width="2.9" stroke-linecap="round"/>
<text x="1166.0" y="1535.0" font-size="24" text-anchor="middle">0</text>
<line x1="1224.4" y1="1490.8" x2="1224.4" y2="1504.6" stroke="#000" stroke-width="2.9" stroke-linecap="round"/>
<text x="1224.4" y="1535.0" font-size="24" text-anchor="middle">2</text>
<line x1="1282.8" y1="1490.8" x2="1282.8" y2="1504.6" stroke="#000" stroke-width="2.9" stroke-linecap="round"/>
<text x="1282.8" y="1535.0" font-size="24" text-anchor="middle">4</text>
<line x1="1341.3" y1="1490.8" x2="1341.3" y2="1504.6" stroke="#000" stroke-width="2.9" stroke-linecap="round"/>
<text x="1341.3" y="1535.0" font-size="24" text-anchor="middle">6</text>
<line x1="1399.7" y1="1490.8" x2="1399.7" y2="1504.6" stroke="#000" stroke-width="2.9" stroke-linecap="round"/>
<text x="1399.7" y="1535.0" font-size="24" text-anchor="middle">8</text>
<line x1="1458.1" y1="1490.8" x2="1458.1" y2="1504.6" stroke="#000" stroke-width="2.9" stroke-linecap="round"/>
<text x="1458.1" y="1535.0" font-size="24" text-anchor="middle">10</text>
<text x="1311.0" y="1181.7" font-size="24.9" text-anchor="middle">N0 with no adjuvant treatment</text>
<text x="1311.0" y="1219.4" font-size="20.75" text-anchor="middle">ER+/HER2-, age &gt;50 ≤70</text>
<text x="1311.1" y="1578.2" font-size="24.7" text-anchor="middle">Follow-Up Time (Years)</text>
<text x="1071.0" y="1370.5" font-size="24" text-anchor="middle" transform="rotate(-90 1071.0 1370.5)">DRFi (%)</text>
<path d="M1165.7 1266.2H1301.5V1277.1H1381.8V1335.2H1458.0" fill="none" stroke="#3A3A3A" stroke-width="3" stroke-linejoin="miter"/>
<path d="M1280.5 1262.3v7.8" fill="none" stroke="#3A3A3A" stroke-width="2.8" stroke-linecap="round"/>
<path d="M1303.9 1273.2v7.8M1305.3 1273.2v7.8M1306.7 1273.2v7.8M1308.1 1273.2v7.8M1309.5 1273.2v7.8M1310.9 1273.2v7.8M1312.3 1273.2v7.8M1313.7 1273.2v7.8M1315.1 1273.2v7.8M1316.5 1273.2v7.8M1317.9 1273.2v7.8M1319.3 1273.2v7.8M1326.6 1273.2v7.8M1328.0 1273.2v7.8M1329.4 1273.2v7.8M1330.8 1273.2v7.8M1332.2 1273.2v7.8M1337.1 1273.2v7.8M1338.8 1273.2v7.8M1340.6 1273.2v7.8M1358.6 1273.2v7.8M1362.0 1273.2v7.8M1372.5 1273.2v7.8" fill="none" stroke="#3A3A3A" stroke-width="2.8" stroke-linecap="round"/>
<path d="M1394.3 1331.3v7.8M1410.0 1331.3v7.8M1415.6 1331.3v7.8M1454.5 1331.3v7.8" fill="none" stroke="#3A3A3A" stroke-width="2.8" stroke-linecap="round"/>
<path d="M1165.7 1266.2H1349.5V1273.2H1458.0" fill="none" stroke="#4DB848" stroke-width="3.2"/>
<path d="M1184.0 1262.3v7.8M1195.7 1262.3v7.8M1197.1 1262.3v7.8M1198.5 1262.3v7.8M1199.9 1262.3v7.8M1201.3 1262.3v7.8M1202.7 1262.3v7.8M1204.1 1262.3v7.8M1205.5 1262.3v7.8M1206.9 1262.3v7.8M1208.3 1262.3v7.8M1213.2 1262.3v7.8M1215.3 1262.3v7.8M1230.3 1262.3v7.8M1246.0 1262.3v7.8M1258.2 1262.3v7.8M1262.6 1262.3v7.8M1265.2 1262.3v7.8M1268.7 1262.3v7.8M1291.7 1262.3v7.8M1293.1 1262.3v7.8M1294.5 1262.3v7.8M1295.9 1262.3v7.8M1297.3 1262.3v7.8M1298.7 1262.3v7.8M1300.1 1262.3v7.8M1301.5 1262.3v7.8M1302.9 1262.3v7.8M1304.3 1262.3v7.8M1305.7 1262.3v7.8M1307.1 1262.3v7.8M1308.5 1262.3v7.8M1309.9 1262.3v7.8M1311.3 1262.3v7.8M1312.7 1262.3v7.8M1314.0 1262.3v7.8M1315.4 1262.3v7.8M1316.8 1262.3v7.8M1318.2 1262.3v7.8M1319.6 1262.3v7.8M1321.0 1262.3v7.8M1322.4 1262.3v7.8M1323.8 1262.3v7.8M1326.6 1262.3v7.8M1330.8 1262.3v7.8M1336.0 1262.3v7.8M1337.8 1262.3v7.8M1339.9 1262.3v7.8" fill="none" stroke="#4DB848" stroke-width="2.8" stroke-linecap="round"/>
<path d="M1356.8 1269.3v7.8M1359.4 1269.3v7.8M1362.9 1269.3v7.8M1365.5 1269.3v7.8M1369.0 1269.3v7.8M1372.5 1269.3v7.8M1376.0 1269.3v7.8M1377.7 1269.3v7.8M1386.5 1269.3v7.8M1394.7 1269.3v7.8M1396.1 1269.3v7.8M1397.5 1269.3v7.8M1398.9 1269.3v7.8M1400.3 1269.3v7.8M1401.7 1269.3v7.8M1403.1 1269.3v7.8M1404.5 1269.3v7.8M1405.8 1269.3v7.8M1407.2 1269.3v7.8M1408.6 1269.3v7.8M1410.0 1269.3v7.8M1411.4 1269.3v7.8M1418.8 1269.3v7.8M1420.5 1269.3v7.8M1427.8 1269.3v7.8M1429.2 1269.3v7.8M1430.6 1269.3v7.8M1432.0 1269.3v7.8M1433.4 1269.3v7.8M1434.8 1269.3v7.8M1436.2 1269.3v7.8M1437.6 1269.3v7.8M1439.0 1269.3v7.8M1440.4 1269.3v7.8M1441.8 1269.3v7.8M1443.2 1269.3v7.8M1444.6 1269.3v7.8M1446.0 1269.3v7.8M1447.4 1269.3v7.8M1448.8 1269.3v7.8M1450.2 1269.3v7.8M1451.6 1269.3v7.8M1453.0 1269.3v7.8M1455.4 1269.3v7.8" fill="none" stroke="#4DB848" stroke-width="2.8" stroke-linecap="round"/>
<line x1="1154.1" y1="1284.0" x2="1469.4" y2="1284.0" stroke="#000" stroke-width="1.8" stroke-dasharray="5.9 6.55"/>
<line x1="1154.1" y1="1302.0" x2="1469.4" y2="1302.0" stroke="#000" stroke-width="1.8" stroke-dasharray="5.9 6.55"/>
<line x1="1154.1" y1="1319.9" x2="1469.4" y2="1319.9" stroke="#000" stroke-width="1.8" stroke-dasharray="5.9 6.55"/>
<text x="1264.5" y="1356.2" font-size="20.7">p=0.02328</text>
<text x="1167.7" y="1425.1" font-size="20.6">SSP ETR stratification</text>
<rect x="1167.7" y="1442.0" width="14.5" height="12.0" fill="#4DB848" rx="1.5"/>
<text x="1195.4" y="1454.0" font-size="20.6">None: n=135 (77%)</text>
<rect x="1167.7" y="1465.4" width="14.5" height="12.0" fill="#3A3A3A" rx="1.5"/>
<text x="1195.4" y="1477.3" font-size="20.6">Endo: n=41 (23%)</text>
<text x="1561.8" y="1167.2" font-size="51" font-weight="bold">g</text>
<rect x="1665.6" y="1257.3" width="315.8" height="233.5" fill="none" stroke="#000" stroke-width="3"/>
<line x1="1651.8" y1="1481.5" x2="1665.6" y2="1481.5" stroke="#000" stroke-width="2.9" stroke-linecap="round"/>
<text x="1644.4" y="1490.2" font-size="24" text-anchor="end">40</text>
<line x1="1651.8" y1="1445.6" x2="1665.6" y2="1445.6" stroke="#000" stroke-width="2.9" stroke-linecap="round"/>
<text x="1644.4" y="1454.3" font-size="24" text-anchor="end">50</text>
<line x1="1651.8" y1="1409.7" x2="1665.6" y2="1409.7" stroke="#000" stroke-width="2.9" stroke-linecap="round"/>
<text x="1644.4" y="1418.4" font-size="24" text-anchor="end">60</text>
<line x1="1651.8" y1="1373.8" x2="1665.6" y2="1373.8" stroke="#000" stroke-width="2.9" stroke-linecap="round"/>
<text x="1644.4" y="1382.5" font-size="24" text-anchor="end">70</text>
<line x1="1651.8" y1="1337.9" x2="1665.6" y2="1337.9" stroke="#000" stroke-width="2.9" stroke-linecap="round"/>
<text x="1644.4" y="1346.6" font-size="24" text-anchor="end">80</text>
<line x1="1651.8" y1="1302.0" x2="1665.6" y2="1302.0" stroke="#000" stroke-width="2.9" stroke-linecap="round"/>
<text x="1644.4" y="1310.7" font-size="24" text-anchor="end">90</text>
<line x1="1651.8" y1="1266.1" x2="1665.6" y2="1266.1" stroke="#000" stroke-width="2.9" stroke-linecap="round"/>
<text x="1644.4" y="1274.8" font-size="24" text-anchor="end">100</text>
<line x1="1677.0" y1="1490.8" x2="1677.0" y2="1504.6" stroke="#000" stroke-width="2.9" stroke-linecap="round"/>
<text x="1677.0" y="1535.0" font-size="24" text-anchor="middle">0</text>
<line x1="1735.4" y1="1490.8" x2="1735.4" y2="1504.6" stroke="#000" stroke-width="2.9" stroke-linecap="round"/>
<text x="1735.4" y="1535.0" font-size="24" text-anchor="middle">2</text>
<line x1="1793.8" y1="1490.8" x2="1793.8" y2="1504.6" stroke="#000" stroke-width="2.9" stroke-linecap="round"/>
<text x="1793.8" y="1535.0" font-size="24" text-anchor="middle">4</text>
<line x1="1852.3" y1="1490.8" x2="1852.3" y2="1504.6" stroke="#000" stroke-width="2.9" stroke-linecap="round"/>
<text x="1852.3" y="1535.0" font-size="24" text-anchor="middle">6</text>
<line x1="1910.7" y1="1490.8" x2="1910.7" y2="1504.6" stroke="#000" stroke-width="2.9" stroke-linecap="round"/>
<text x="1910.7" y="1535.0" font-size="24" text-anchor="middle">8</text>
<line x1="1969.1" y1="1490.8" x2="1969.1" y2="1504.6" stroke="#000" stroke-width="2.9" stroke-linecap="round"/>
<text x="1969.1" y="1535.0" font-size="24" text-anchor="middle">10</text>
<text x="1824.4" y="1184.2" font-size="24.9" text-anchor="middle">N0 treated with Endo</text>
<text x="1824.4" y="1222.1" font-size="20.75" text-anchor="middle">ER+/HER2-, age &gt;50 ≤70</text>
<text x="1824.5" y="1578.2" font-size="24.7" text-anchor="middle">Follow-Up Time (Years)</text>
<text x="1582.0" y="1370.5" font-size="24" text-anchor="middle" transform="rotate(-90 1582.0 1370.5)">DRFi (%)</text>
<path d="M1675.7 1266.6L1705.7 1266.6L1705.7 1268.8L1711.7 1268.8L1711.7 1271.8L1755.6 1271.8L1755.6 1277.1L1773.1 1277.1L1773.1 1280.0L1784.3 1280.0L1784.3 1282.3L1805.7 1282.3L1805.7 1285.8L1809.7 1285.8L1809.7 1288.4L1813.6 1288.4L1813.6 1291.2L1831.9 1291.2L1831.9 1293.6L1834.5 1293.6L1834.5 1296.8L1837.1 1296.8L1837.1 1300.6L1839.8 1300.6L1839.8 1303.2L1842.4 1303.2L1842.4 1305.8L1877.3 1305.8L1877.3 1310.7L1941.0 1310.7L1941.0 1320.2L1968.0 1320.2" fill="none" stroke="#F7931E" stroke-width="3.1"/>
<path d="M1679.2 1262.7v7.8" fill="none" stroke="#F7931E" stroke-width="2.8" stroke-linecap="round"/>
<path d="M1714.1 1267.9v7.8" fill="none" stroke="#F7931E" stroke-width="2.8" stroke-linecap="round"/>
<path d="M1735.0 1267.9v7.8" fill="none" stroke="#F7931E" stroke-width="2.8" stroke-linecap="round"/>
<path d="M1741.2 1267.9v7.8" fill="none" stroke="#F7931E" stroke-width="2.8" stroke-linecap="round"/>
<path d="M1754.2 1267.9v7.8" fill="none" stroke="#F7931E" stroke-width="2.8" stroke-linecap="round"/>
<path d="M1774.3 1276.1v7.8" fill="none" stroke="#F7931E" stroke-width="2.8" stroke-linecap="round"/>
<path d="M1778.7 1276.1v7.8" fill="none" stroke="#F7931E" stroke-width="2.8" stroke-linecap="round"/>
<path d="M1784.8 1278.4v7.8" fill="none" stroke="#F7931E" stroke-width="2.8" stroke-linecap="round"/>
<path d="M1792.6 1278.4v7.8" fill="none" stroke="#F7931E" stroke-width="2.8" stroke-linecap="round"/>
<path d="M1798.7 1278.4v7.8" fill="none" stroke="#F7931E" stroke-width="2.8" stroke-linecap="round"/>
<path d="M1806.6 1281.9v7.8" fill="none" stroke="#F7931E" stroke-width="2.8" stroke-linecap="round"/>
<path d="M1810.4 1284.5v7.8" fill="none" stroke="#F7931E" stroke-width="2.8" stroke-linecap="round"/>
<path d="M1815.3 1287.3v7.8" fill="none" stroke="#F7931E" stroke-width="2.8" stroke-linecap="round"/>
<path d="M1820.6 1287.3v7.8" fill="none" stroke="#F7931E" stroke-width="2.8" stroke-linecap="round"/>
<path d="M1821.8 1287.3v7.8" fill="none" stroke="#F7931E" stroke-width="2.8" stroke-linecap="round"/>
<path d="M1823.0 1287.3v7.8" fill="none" stroke="#F7931E" stroke-width="2.8" stroke-linecap="round"/>
<path d="M1824.2 1287.3v7.8" fill="none" stroke="#F7931E" stroke-width="2.8" stroke-linecap="round"/>
<path d="M1825.4 1287.3v7.8" fill="none" stroke="#F7931E" stroke-width="2.8" stroke-linecap="round"/>
<path d="M1826.7 1287.3v7.8" fill="none" stroke="#F7931E" stroke-width="2.8" stroke-linecap="round"/>
<path d="M1827.9 1287.3v7.8" fill="none" stroke="#F7931E" stroke-width="2.8" stroke-linecap="round"/>
<path d="M1829.1 1287.3v7.8" fill="none" stroke="#F7931E" stroke-width="2.8" stroke-linecap="round"/>
<path d="M1830.3 1287.3v7.8" fill="none" stroke="#F7931E" stroke-width="2.8" stroke-linecap="round"/>
<path d="M1831.6 1287.3v7.8" fill="none" stroke="#F7931E" stroke-width="2.8" stroke-linecap="round"/>
<path d="M1835.0 1292.9v7.8" fill="none" stroke="#F7931E" stroke-width="2.8" stroke-linecap="round"/>
<path d="M1837.7 1296.7v7.8" fill="none" stroke="#F7931E" stroke-width="2.8" stroke-linecap="round"/>
<path d="M1845.0 1301.9v7.8" fill="none" stroke="#F7931E" stroke-width="2.8" stroke-linecap="round"/>
<path d="M1868.6 1301.9v7.8" fill="none" stroke="#F7931E" stroke-width="2.8" stroke-linecap="round"/>
<path d="M1887.7 1306.8v7.8" fill="none" stroke="#F7931E" stroke-width="2.8" stroke-linecap="round"/>
<path d="M1893.0 1306.8v7.8" fill="none" stroke="#F7931E" stroke-width="2.8" stroke-linecap="round"/>
<path d="M1900.0 1306.8v7.8" fill="none" stroke="#F7931E" stroke-width="2.8" stroke-linecap="round"/>
<path d="M1909.0 1306.8v7.8" fill="none" stroke="#F7931E" stroke-width="2.8" stroke-linecap="round"/>
<path d="M1910.3 1306.8v7.8" fill="none" stroke="#F7931E" stroke-width="2.8" stroke-linecap="round"/>
<path d="M1911.5 1306.8v7.8" fill="none" stroke="#F7931E" stroke-width="2.8" stroke-linecap="round"/>
<path d="M1912.7 1306.8v7.8" fill="none" stroke="#F7931E" stroke-width="2.8" stroke-linecap="round"/>
<path d="M1913.9 1306.8v7.8" fill="none" stroke="#F7931E" stroke-width="2.8" stroke-linecap="round"/>
<path d="M1915.1 1306.8v7.8" fill="none" stroke="#F7931E" stroke-width="2.8" stroke-linecap="round"/>
<path d="M1916.4 1306.8v7.8" fill="none" stroke="#F7931E" stroke-width="2.8" stroke-linecap="round"/>
<path d="M1917.6 1306.8v7.8" fill="none" stroke="#F7931E" stroke-width="2.8" stroke-linecap="round"/>
<path d="M1918.8 1306.8v7.8" fill="none" stroke="#F7931E" stroke-width="2.8" stroke-linecap="round"/>
<path d="M1920.0 1306.8v7.8" fill="none" stroke="#F7931E" stroke-width="2.8" stroke-linecap="round"/>
<path d="M1925.3 1306.8v7.8" fill="none" stroke="#F7931E" stroke-width="2.8" stroke-linecap="round"/>
<path d="M1929.6 1306.8v7.8" fill="none" stroke="#F7931E" stroke-width="2.8" stroke-linecap="round"/>
<path d="M1936.6 1306.8v7.8" fill="none" stroke="#F7931E" stroke-width="2.8" stroke-linecap="round"/>
<path d="M1941.3 1316.3v7.8" fill="none" stroke="#F7931E" stroke-width="2.8" stroke-linecap="round"/>
<path d="M1942.5 1316.3v7.8" fill="none" stroke="#F7931E" stroke-width="2.8" stroke-linecap="round"/>
<path d="M1943.8 1316.3v7.8" fill="none" stroke="#F7931E" stroke-width="2.8" stroke-linecap="round"/>
<path d="M1945.0 1316.3v7.8" fill="none" stroke="#F7931E" stroke-width="2.8" stroke-linecap="round"/>
<path d="M1946.2 1316.3v7.8" fill="none" stroke="#F7931E" stroke-width="2.8" stroke-linecap="round"/>
<path d="M1947.4 1316.3v7.8" fill="none" stroke="#F7931E" stroke-width="2.8" stroke-linecap="round"/>
<path d="M1948.7 1316.3v7.8" fill="none" stroke="#F7931E" stroke-width="2.8" stroke-linecap="round"/>
<path d="M1949.9 1316.3v7.8" fill="none" stroke="#F7931E" stroke-width="2.8" stroke-linecap="round"/>
<path d="M1951.1 1316.3v7.8" fill="none" stroke="#F7931E" stroke-width="2.8" stroke-linecap="round"/>
<path d="M1952.3 1316.3v7.8" fill="none" stroke="#F7931E" stroke-width="2.8" stroke-linecap="round"/>
<path d="M1953.5 1316.3v7.8" fill="none" stroke="#F7931E" stroke-width="2.8" stroke-linecap="round"/>
<path d="M1954.8 1316.3v7.8" fill="none" stroke="#F7931E" stroke-width="2.8" stroke-linecap="round"/>
<path d="M1956.0 1316.3v7.8" fill="none" stroke="#F7931E" stroke-width="2.8" stroke-linecap="round"/>
<path d="M1957.2 1316.3v7.8" fill="none" stroke="#F7931E" stroke-width="2.8" stroke-linecap="round"/>
<path d="M1958.4 1316.3v7.8" fill="none" stroke="#F7931E" stroke-width="2.8" stroke-linecap="round"/>
<path d="M1959.7 1316.3v7.8" fill="none" stroke="#F7931E" stroke-width="2.8" stroke-linecap="round"/>
<path d="M1960.9 1316.3v7.8" fill="none" stroke="#F7931E" stroke-width="2.8" stroke-linecap="round"/>
<path d="M1962.1 1316.3v7.8" fill="none" stroke="#F7931E" stroke-width="2.8" stroke-linecap="round"/>
<path d="M1963.3 1316.3v7.8" fill="none" stroke="#F7931E" stroke-width="2.8" stroke-linecap="round"/>
<path d="M1964.5 1316.3v7.8" fill="none" stroke="#F7931E" stroke-width="2.8" stroke-linecap="round"/>
<path d="M1965.8 1316.3v7.8" fill="none" stroke="#F7931E" stroke-width="2.8" stroke-linecap="round"/>
<path d="M1967.0 1316.3v7.8" fill="none" stroke="#F7931E" stroke-width="2.8" stroke-linecap="round"/>
<path d="M1968.2 1316.3v7.8" fill="none" stroke="#F7931E" stroke-width="2.8" stroke-linecap="round"/>
<path d="M1675.7 1266.6L1747.3 1266.6L1747.3 1267.5L1757.7 1267.5L1757.7 1268.5L1782.2 1268.5L1782.2 1269.5L1799.6 1269.5L1799.6 1270.8L1817.1 1270.8L1817.1 1271.8L1841.5 1271.8L1841.5 1273.0L1847.6 1273.0L1847.6 1274.4L1852.0 1274.4L1852.0 1275.5L1932.3 1275.5L1932.3 1276.5L1939.2 1276.5L1939.2 1277.9L1947.1 1277.9L1947.1 1280.2L1968.0 1280.2" fill="none" stroke="#3A3A3A" stroke-width="3.1"/>
<path d="M1688.8 1262.7v7.8" fill="none" stroke="#3A3A3A" stroke-width="2.8" stroke-linecap="round"/>
<path d="M1692.3 1262.7v7.8" fill="none" stroke="#3A3A3A" stroke-width="2.8" stroke-linecap="round"/>
<path d="M1694.6 1262.7v7.8" fill="none" stroke="#3A3A3A" stroke-width="2.8" stroke-linecap="round"/>
<path d="M1703.6 1262.7v7.8" fill="none" stroke="#3A3A3A" stroke-width="2.8" stroke-linecap="round"/>
<path d="M1704.9 1262.7v7.8" fill="none" stroke="#3A3A3A" stroke-width="2.8" stroke-linecap="round"/>
<path d="M1706.1 1262.7v7.8" fill="none" stroke="#3A3A3A" stroke-width="2.8" stroke-linecap="round"/>
<path d="M1707.3 1262.7v7.8" fill="none" stroke="#3A3A3A" stroke-width="2.8" stroke-linecap="round"/>
<path d="M1708.5 1262.7v7.8" fill="none" stroke="#3A3A3A" stroke-width="2.8" stroke-linecap="round"/>
<path d="M1709.7 1262.7v7.8" fill="none" stroke="#3A3A3A" stroke-width="2.8" stroke-linecap="round"/>
<path d="M1711.0 1262.7v7.8" fill="none" stroke="#3A3A3A" stroke-width="2.8" stroke-linecap="round"/>
<path d="M1712.2 1262.7v7.8" fill="none" stroke="#3A3A3A" stroke-width="2.8" stroke-linecap="round"/>
<path d="M1713.4 1262.7v7.8" fill="none" stroke="#3A3A3A" stroke-width="2.8" stroke-linecap="round"/>
<path d="M1721.1 1262.7v7.8" fill="none" stroke="#3A3A3A" stroke-width="2.8" stroke-linecap="round"/>
<path d="M1725.4 1262.7v7.8" fill="none" stroke="#3A3A3A" stroke-width="2.8" stroke-linecap="round"/>
<path d="M1727.2 1262.7v7.8" fill="none" stroke="#3A3A3A" stroke-width="2.8" stroke-linecap="round"/>
<path d="M1741.2 1262.7v7.8" fill="none" stroke="#3A3A3A" stroke-width="2.8" stroke-linecap="round"/>
<path d="M1745.5 1262.7v7.8" fill="none" stroke="#3A3A3A" stroke-width="2.8" stroke-linecap="round"/>
<path d="M1746.6 1262.7v7.8" fill="none" stroke="#3A3A3A" stroke-width="2.8" stroke-linecap="round"/>
<path d="M1747.6 1263.6v7.8" fill="none" stroke="#3A3A3A" stroke-width="2.8" stroke-linecap="round"/>
<path d="M1748.7 1263.6v7.8" fill="none" stroke="#3A3A3A" stroke-width="2.8" stroke-linecap="round"/>
<path d="M1749.7 1263.6v7.8" fill="none" stroke="#3A3A3A" stroke-width="2.8" stroke-linecap="round"/>
<path d="M1750.8 1263.6v7.8" fill="none" stroke="#3A3A3A" stroke-width="2.8" stroke-linecap="round"/>
<path d="M1751.8 1263.6v7.8" fill="none" stroke="#3A3A3A" stroke-width="2.8" stroke-linecap="round"/>
<path d="M1752.8 1263.6v7.8" fill="none" stroke="#3A3A3A" stroke-width="2.8" stroke-linecap="round"/>
<path d="M1753.9 1263.6v7.8" fill="none" stroke="#3A3A3A" stroke-width="2.8" stroke-linecap="round"/>
<path d="M1754.9 1263.6v7.8" fill="none" stroke="#3A3A3A" stroke-width="2.8" stroke-linecap="round"/>
<path d="M1756.0 1263.6v7.8" fill="none" stroke="#3A3A3A" stroke-width="2.8" stroke-linecap="round"/>
<path d="M1757.0 1263.6v7.8" fill="none" stroke="#3A3A3A" stroke-width="2.8" stroke-linecap="round"/>
<path d="M1758.1 1264.6v7.8" fill="none" stroke="#3A3A3A" stroke-width="2.8" stroke-linecap="round"/>
<path d="M1759.1 1264.6v7.8" fill="none" stroke="#3A3A3A" stroke-width="2.8" stroke-linecap="round"/>
<path d="M1760.2 1264.6v7.8" fill="none" stroke="#3A3A3A" stroke-width="2.8" stroke-linecap="round"/>
<path d="M1761.2 1264.6v7.8" fill="none" stroke="#3A3A3A" stroke-width="2.8" stroke-linecap="round"/>
<path d="M1762.3 1264.6v7.8" fill="none" stroke="#3A3A3A" stroke-width="2.8" stroke-linecap="round"/>
<path d="M1763.3 1264.6v7.8" fill="none" stroke="#3A3A3A" stroke-width="2.8" stroke-linecap="round"/>
<path d="M1764.4 1264.6v7.8" fill="none" stroke="#3A3A3A" stroke-width="2.8" stroke-linecap="round"/>
<path d="M1765.4 1264.6v7.8" fill="none" stroke="#3A3A3A" stroke-width="2.8" stroke-linecap="round"/>
<path d="M1766.5 1264.6v7.8" fill="none" stroke="#3A3A3A" stroke-width="2.8" stroke-linecap="round"/>
<path d="M1767.5 1264.6v7.8" fill="none" stroke="#3A3A3A" stroke-width="2.8" stroke-linecap="round"/>
<path d="M1768.6 1264.6v7.8" fill="none" stroke="#3A3A3A" stroke-width="2.8" stroke-linecap="round"/>
<path d="M1769.6 1264.6v7.8" fill="none" stroke="#3A3A3A" stroke-width="2.8" stroke-linecap="round"/>
<path d="M1770.6 1264.6v7.8" fill="none" stroke="#3A3A3A" stroke-width="2.8" stroke-linecap="round"/>
<path d="M1771.7 1264.6v7.8" fill="none" stroke="#3A3A3A" stroke-width="2.8" stroke-linecap="round"/>
<path d="M1772.7 1264.6v7.8" fill="none" stroke="#3A3A3A" stroke-width="2.8" stroke-linecap="round"/>
<path d="M1773.8 1264.6v7.8" fill="none" stroke="#3A3A3A" stroke-width="2.8" stroke-linecap="round"/>
<path d="M1774.8 1264.6v7.8" fill="none" stroke="#3A3A3A" stroke-width="2.8" stroke-linecap="round"/>
<path d="M1775.9 1264.6v7.8" fill="none" stroke="#3A3A3A" stroke-width="2.8" stroke-linecap="round"/>
<path d="M1776.9 1264.6v7.8" fill="none" stroke="#3A3A3A" stroke-width="2.8" stroke-linecap="round"/>
<path d="M1778.0 1264.6v7.8" fill="none" stroke="#3A3A3A" stroke-width="2.8" stroke-linecap="round"/>
<path d="M1779.0 1264.6v7.8" fill="none" stroke="#3A3A3A" stroke-width="2.8" stroke-linecap="round"/>
<path d="M1780.1 1264.6v7.8" fill="none" stroke="#3A3A3A" stroke-width="2.8" stroke-linecap="round"/>
<path d="M1781.1 1264.6v7.8" fill="none" stroke="#3A3A3A" stroke-width="2.8" stroke-linecap="round"/>
<path d="M1782.2 1265.6v7.8" fill="none" stroke="#3A3A3A" stroke-width="2.8" stroke-linecap="round"/>
<path d="M1788.4 1265.6v7.8" fill="none" stroke="#3A3A3A" stroke-width="2.8" stroke-linecap="round"/>
<path d="M1789.5 1265.6v7.8" fill="none" stroke="#3A3A3A" stroke-width="2.8" stroke-linecap="round"/>
<path d="M1790.5 1265.6v7.8" fill="none" stroke="#3A3A3A" stroke-width="2.8" stroke-linecap="round"/>
<path d="M1791.6 1265.6v7.8" fill="none" stroke="#3A3A3A" stroke-width="2.8" stroke-linecap="round"/>
<path d="M1792.6 1265.6v7.8" fill="none" stroke="#3A3A3A" stroke-width="2.8" stroke-linecap="round"/>
<path d="M1793.7 1265.6v7.8" fill="none" stroke="#3A3A3A" stroke-width="2.8" stroke-linecap="round"/>
<path d="M1794.7 1265.6v7.8" fill="none" stroke="#3A3A3A" stroke-width="2.8" stroke-linecap="round"/>
<path d="M1795.8 1265.6v7.8" fill="none" stroke="#3A3A3A" stroke-width="2.8" stroke-linecap="round"/>
<path d="M1796.8 1265.6v7.8" fill="none" stroke="#3A3A3A" stroke-width="2.8" stroke-linecap="round"/>
<path d="M1797.9 1265.6v7.8" fill="none" stroke="#3A3A3A" stroke-width="2.8" stroke-linecap="round"/>
<path d="M1798.9 1265.6v7.8" fill="none" stroke="#3A3A3A" stroke-width="2.8" stroke-linecap="round"/>
<path d="M1800.0 1266.9v7.8" fill="none" stroke="#3A3A3A" stroke-width="2.8" stroke-linecap="round"/>
<path d="M1801.0 1266.9v7.8" fill="none" stroke="#3A3A3A" stroke-width="2.8" stroke-linecap="round"/>
<path d="M1802.1 1266.9v7.8" fill="none" stroke="#3A3A3A" stroke-width="2.8" stroke-linecap="round"/>
<path d="M1803.1 1266.9v7.8" fill="none" stroke="#3A3A3A" stroke-width="2.8" stroke-linecap="round"/>
<path d="M1804.2 1266.9v7.8" fill="none" stroke="#3A3A3A" stroke-width="2.8" stroke-linecap="round"/>
<path d="M1805.2 1266.9v7.8" fill="none" stroke="#3A3A3A" stroke-width="2.8" stroke-linecap="round"/>
<path d="M1806.2 1266.9v7.8" fill="none" stroke="#3A3A3A" stroke-width="2.8" stroke-linecap="round"/>
<path d="M1807.3 1266.9v7.8" fill="none" stroke="#3A3A3A" stroke-width="2.8" stroke-linecap="round"/>
<path d="M1808.3 1266.9v7.8" fill="none" stroke="#3A3A3A" stroke-width="2.8" stroke-linecap="round"/>
<path d="M1809.4 1266.9v7.8" fill="none" stroke="#3A3A3A" stroke-width="2.8" stroke-linecap="round"/>
<path d="M1810.4 1266.9v7.8" fill="none" stroke="#3A3A3A" stroke-width="2.8" stroke-linecap="round"/>
<path d="M1811.5 1266.9v7.8" fill="none" stroke="#3A3A3A" stroke-width="2.8" stroke-linecap="round"/>
<path d="M1812.5 1266.9v7.8" fill="none" stroke="#3A3A3A" stroke-width="2.8" stroke-linecap="round"/>
<path d="M1813.6 1266.9v7.8" fill="none" stroke="#3A3A3A" stroke-width="2.8" stroke-linecap="round"/>
<path d="M1814.6 1266.9v7.8" fill="none" stroke="#3A3A3A" stroke-width="2.8" stroke-linecap="round"/>
<path d="M1815.7 1266.9v7.8" fill="none" stroke="#3A3A3A" stroke-width="2.8" stroke-linecap="round"/>
<path d="M1816.7 1266.9v7.8" fill="none" stroke="#3A3A3A" stroke-width="2.8" stroke-linecap="round"/>
<path d="M1817.8 1267.9v7.8" fill="none" stroke="#3A3A3A" stroke-width="2.8" stroke-linecap="round"/>
<path d="M1818.8 1267.9v7.8" fill="none" stroke="#3A3A3A" stroke-width="2.8" stroke-linecap="round"/>
<path d="M1819.9 1267.9v7.8" fill="none" stroke="#3A3A3A" stroke-width="2.8" stroke-linecap="round"/>
<path d="M1820.9 1267.9v7.8" fill="none" stroke="#3A3A3A" stroke-width="2.8" stroke-linecap="round"/>
<path d="M1822.0 1267.9v7.8" fill="none" stroke="#3A3A3A" stroke-width="2.8" stroke-linecap="round"/>
<path d="M1823.0 1267.9v7.8" fill="none" stroke="#3A3A3A" stroke-width="2.8" stroke-linecap="round"/>
<path d="M1824.0 1267.9v7.8" fill="none" stroke="#3A3A3A" stroke-width="2.8" stroke-linecap="round"/>
<path d="M1825.1 1267.9v7.8" fill="none" stroke="#3A3A3A" stroke-width="2.8" stroke-linecap="round"/>
<path d="M1826.1 1267.9v7.8" fill="none" stroke="#3A3A3A" stroke-width="2.8" stroke-linecap="round"/>
<path d="M1827.2 1267.9v7.8" fill="none" stroke="#3A3A3A" stroke-width="2.8" stroke-linecap="round"/>
<path d="M1828.2 1267.9v7.8" fill="none" stroke="#3A3A3A" stroke-width="2.8" stroke-linecap="round"/>
<path d="M1829.3 1267.9v7.8" fill="none" stroke="#3A3A3A" stroke-width="2.8" stroke-linecap="round"/>
<path d="M1830.3 1267.9v7.8" fill="none" stroke="#3A3A3A" stroke-width="2.8" stroke-linecap="round"/>
<path d="M1831.4 1267.9v7.8" fill="none" stroke="#3A3A3A" stroke-width="2.8" stroke-linecap="round"/>
<path d="M1832.4 1267.9v7.8" fill="none" stroke="#3A3A3A" stroke-width="2.8" stroke-linecap="round"/>
<path d="M1833.5 1267.9v7.8" fill="none" stroke="#3A3A3A" stroke-width="2.8" stroke-linecap="round"/>
<path d="M1834.5 1267.9v7.8" fill="none" stroke="#3A3A3A" stroke-width="2.8" stroke-linecap="round"/>
<path d="M1835.6 1267.9v7.8" fill="none" stroke="#3A3A3A" stroke-width="2.8" stroke-linecap="round"/>
<path d="M1836.6 1267.9v7.8" fill="none" stroke="#3A3A3A" stroke-width="2.8" stroke-linecap="round"/>
<path d="M1837.7 1267.9v7.8" fill="none" stroke="#3A3A3A" stroke-width="2.8" stroke-linecap="round"/>
<path d="M1838.7 1267.9v7.8" fill="none" stroke="#3A3A3A" stroke-width="2.8" stroke-linecap="round"/>
<path d="M1839.8 1267.9v7.8" fill="none" stroke="#3A3A3A" stroke-width="2.8" stroke-linecap="round"/>
<path d="M1840.8 1267.9v7.8" fill="none" stroke="#3A3A3A" stroke-width="2.8" stroke-linecap="round"/>
<path d="M1841.8 1269.1v7.8" fill="none" stroke="#3A3A3A" stroke-width="2.8" stroke-linecap="round"/>
<path d="M1842.9 1269.1v7.8" fill="none" stroke="#3A3A3A" stroke-width="2.8" stroke-linecap="round"/>
<path d="M1843.9 1269.1v7.8" fill="none" stroke="#3A3A3A" stroke-width="2.8" stroke-linecap="round"/>
<path d="M1845.0 1269.1v7.8" fill="none" stroke="#3A3A3A" stroke-width="2.8" stroke-linecap="round"/>
<path d="M1846.0 1269.1v7.8" fill="none" stroke="#3A3A3A" stroke-width="2.8" stroke-linecap="round"/>
<path d="M1847.1 1269.1v7.8" fill="none" stroke="#3A3A3A" stroke-width="2.8" stroke-linecap="round"/>
<path d="M1848.1 1270.5v7.8" fill="none" stroke="#3A3A3A" stroke-width="2.8" stroke-linecap="round"/>
<path d="M1849.2 1270.5v7.8" fill="none" stroke="#3A3A3A" stroke-width="2.8" stroke-linecap="round"/>
<path d="M1850.2 1270.5v7.8" fill="none" stroke="#3A3A3A" stroke-width="2.8" stroke-linecap="round"/>
<path d="M1851.3 1270.5v7.8" fill="none" stroke="#3A3A3A" stroke-width="2.8" stroke-linecap="round"/>
<path d="M1852.3 1271.6v7.8" fill="none" stroke="#3A3A3A" stroke-width="2.8" stroke-linecap="round"/>
<path d="M1853.4 1271.6v7.8" fill="none" stroke="#3A3A3A" stroke-width="2.8" stroke-linecap="round"/>
<path d="M1854.4 1271.6v7.8" fill="none" stroke="#3A3A3A" stroke-width="2.8" stroke-linecap="round"/>
<path d="M1855.5 1271.6v7.8" fill="none" stroke="#3A3A3A" stroke-width="2.8" stroke-linecap="round"/>
<path d="M1856.5 1271.6v7.8" fill="none" stroke="#3A3A3A" stroke-width="2.8" stroke-linecap="round"/>
<path d="M1857.6 1271.6v7.8" fill="none" stroke="#3A3A3A" stroke-width="2.8" stroke-linecap="round"/>
<path d="M1858.6 1271.6v7.8" fill="none" stroke="#3A3A3A" stroke-width="2.8" stroke-linecap="round"/>
<path d="M1859.7 1271.6v7.8" fill="none" stroke="#3A3A3A" stroke-width="2.8" stroke-linecap="round"/>
<path d="M1860.7 1271.6v7.8" fill="none" stroke="#3A3A3A" stroke-width="2.8" stroke-linecap="round"/>
<path d="M1861.7 1271.6v7.8" fill="none" stroke="#3A3A3A" stroke-width="2.8" stroke-linecap="round"/>
<path d="M1862.8 1271.6v7.8" fill="none" stroke="#3A3A3A" stroke-width="2.8" stroke-linecap="round"/>
<path d="M1863.8 1271.6v7.8" fill="none" stroke="#3A3A3A" stroke-width="2.8" stroke-linecap="round"/>
<path d="M1864.9 1271.6v7.8" fill="none" stroke="#3A3A3A" stroke-width="2.8" stroke-linecap="round"/>
<path d="M1865.9 1271.6v7.8" fill="none" stroke="#3A3A3A" stroke-width="2.8" stroke-linecap="round"/>
<path d="M1867.0 1271.6v7.8" fill="none" stroke="#3A3A3A" stroke-width="2.8" stroke-linecap="round"/>
<path d="M1868.0 1271.6v7.8" fill="none" stroke="#3A3A3A" stroke-width="2.8" stroke-linecap="round"/>
<path d="M1869.1 1271.6v7.8" fill="none" stroke="#3A3A3A" stroke-width="2.8" stroke-linecap="round"/>
<path d="M1870.1 1271.6v7.8" fill="none" stroke="#3A3A3A" stroke-width="2.8" stroke-linecap="round"/>
<path d="M1871.2 1271.6v7.8" fill="none" stroke="#3A3A3A" stroke-width="2.8" stroke-linecap="round"/>
<path d="M1872.2 1271.6v7.8" fill="none" stroke="#3A3A3A" stroke-width="2.8" stroke-linecap="round"/>
<path d="M1873.3 1271.6v7.8" fill="none" stroke="#3A3A3A" stroke-width="2.8" stroke-linecap="round"/>
<path d="M1876.4 1271.6v7.8" fill="none" stroke="#3A3A3A" stroke-width="2.8" stroke-linecap="round"/>
<path d="M1877.5 1271.6v7.8" fill="none" stroke="#3A3A3A" stroke-width="2.8" stroke-linecap="round"/>
<path d="M1878.5 1271.6v7.8" fill="none" stroke="#3A3A3A" stroke-width="2.8" stroke-linecap="round"/>
<path d="M1879.5 1271.6v7.8" fill="none" stroke="#3A3A3A" stroke-width="2.8" stroke-linecap="round"/>
<path d="M1880.6 1271.6v7.8" fill="none" stroke="#3A3A3A" stroke-width="2.8" stroke-linecap="round"/>
<path d="M1881.6 1271.6v7.8" fill="none" stroke="#3A3A3A" stroke-width="2.8" stroke-linecap="round"/>
<path d="M1882.7 1271.6v7.8" fill="none" stroke="#3A3A3A" stroke-width="2.8" stroke-linecap="round"/>
<path d="M1883.7 1271.6v7.8" fill="none" stroke="#3A3A3A" stroke-width="2.8" stroke-linecap="round"/>
<path d="M1884.8 1271.6v7.8" fill="none" stroke="#3A3A3A" stroke-width="2.8" stroke-linecap="round"/>
<path d="M1885.8 1271.6v7.8" fill="none" stroke="#3A3A3A" stroke-width="2.8" stroke-linecap="round"/>
<path d="M1886.9 1271.6v7.8" fill="none" stroke="#3A3A3A" stroke-width="2.8" stroke-linecap="round"/>
<path d="M1887.9 1271.6v7.8" fill="none" stroke="#3A3A3A" stroke-width="2.8" stroke-linecap="round"/>
<path d="M1889.0 1271.6v7.8" fill="none" stroke="#3A3A3A" stroke-width="2.8" stroke-linecap="round"/>
<path d="M1892.1 1271.6v7.8" fill="none" stroke="#3A3A3A" stroke-width="2.8" stroke-linecap="round"/>
<path d="M1893.2 1271.6v7.8" fill="none" stroke="#3A3A3A" stroke-width="2.8" stroke-linecap="round"/>
<path d="M1894.2 1271.6v7.8" fill="none" stroke="#3A3A3A" stroke-width="2.8" stroke-linecap="round"/>
<path d="M1895.3 1271.6v7.8" fill="none" stroke="#3A3A3A" stroke-width="2.8" stroke-linecap="round"/>
<path d="M1896.3 1271.6v7.8" fill="none" stroke="#3A3A3A" stroke-width="2.8" stroke-linecap="round"/>
<path d="M1897.3 1271.6v7.8" fill="none" stroke="#3A3A3A" stroke-width="2.8" stroke-linecap="round"/>
<path d="M1898.4 1271.6v7.8" fill="none" stroke="#3A3A3A" stroke-width="2.8" stroke-linecap="round"/>
<path d="M1899.4 1271.6v7.8" fill="none" stroke="#3A3A3A" stroke-width="2.8" stroke-linecap="round"/>
<path d="M1900.5 1271.6v7.8" fill="none" stroke="#3A3A3A" stroke-width="2.8" stroke-linecap="round"/>
<path d="M1901.5 1271.6v7.8" fill="none" stroke="#3A3A3A" stroke-width="2.8" stroke-linecap="round"/>
<path d="M1902.6 1271.6v7.8" fill="none" stroke="#3A3A3A" stroke-width="2.8" stroke-linecap="round"/>
<path d="M1903.6 1271.6v7.8" fill="none" stroke="#3A3A3A" stroke-width="2.8" stroke-linecap="round"/>
<path d="M1906.8 1271.6v7.8" fill="none" stroke="#3A3A3A" stroke-width="2.8" stroke-linecap="round"/>
<path d="M1907.8 1271.6v7.8" fill="none" stroke="#3A3A3A" stroke-width="2.8" stroke-linecap="round"/>
<path d="M1908.9 1271.6v7.8" fill="none" stroke="#3A3A3A" stroke-width="2.8" stroke-linecap="round"/>
<path d="M1909.9 1271.6v7.8" fill="none" stroke="#3A3A3A" stroke-width="2.8" stroke-linecap="round"/>
<path d="M1911.0 1271.6v7.8" fill="none" stroke="#3A3A3A" stroke-width="2.8" stroke-linecap="round"/>
<path d="M1912.0 1271.6v7.8" fill="none" stroke="#3A3A3A" stroke-width="2.8" stroke-linecap="round"/>
<path d="M1913.1 1271.6v7.8" fill="none" stroke="#3A3A3A" stroke-width="2.8" stroke-linecap="round"/>
<path d="M1914.1 1271.6v7.8" fill="none" stroke="#3A3A3A" stroke-width="2.8" stroke-linecap="round"/>
<path d="M1915.1 1271.6v7.8" fill="none" stroke="#3A3A3A" stroke-width="2.8" stroke-linecap="round"/>
<path d="M1916.2 1271.6v7.8" fill="none" stroke="#3A3A3A" stroke-width="2.8" stroke-linecap="round"/>
<path d="M1917.2 1271.6v7.8" fill="none" stroke="#3A3A3A" stroke-width="2.8" stroke-linecap="round"/>
<path d="M1918.3 1271.6v7.8" fill="none" stroke="#3A3A3A" stroke-width="2.8" stroke-linecap="round"/>
<path d="M1919.3 1271.6v7.8" fill="none" stroke="#3A3A3A" stroke-width="2.8" stroke-linecap="round"/>
<path d="M1920.4 1271.6v7.8" fill="none" stroke="#3A3A3A" stroke-width="2.8" stroke-linecap="round"/>
<path d="M1921.4 1271.6v7.8" fill="none" stroke="#3A3A3A" stroke-width="2.8" stroke-linecap="round"/>
<path d="M1922.5 1271.6v7.8" fill="none" stroke="#3A3A3A" stroke-width="2.8" stroke-linecap="round"/>
<path d="M1923.5 1271.6v7.8" fill="none" stroke="#3A3A3A" stroke-width="2.8" stroke-linecap="round"/>
<path d="M1924.6 1271.6v7.8" fill="none" stroke="#3A3A3A" stroke-width="2.8" stroke-linecap="round"/>
<path d="M1925.6 1271.6v7.8" fill="none" stroke="#3A3A3A" stroke-width="2.8" stroke-linecap="round"/>
<path d="M1926.7 1271.6v7.8" fill="none" stroke="#3A3A3A" stroke-width="2.8" stroke-linecap="round"/>
<path d="M1927.7 1271.6v7.8" fill="none" stroke="#3A3A3A" stroke-width="2.8" stroke-linecap="round"/>
<path d="M1928.8 1271.6v7.8" fill="none" stroke="#3A3A3A" stroke-width="2.8" stroke-linecap="round"/>
<path d="M1929.8 1271.6v7.8" fill="none" stroke="#3A3A3A" stroke-width="2.8" stroke-linecap="round"/>
<path d="M1930.9 1271.6v7.8" fill="none" stroke="#3A3A3A" stroke-width="2.8" stroke-linecap="round"/>
<path d="M1931.9 1271.6v7.8" fill="none" stroke="#3A3A3A" stroke-width="2.8" stroke-linecap="round"/>
<path d="M1932.9 1272.6v7.8" fill="none" stroke="#3A3A3A" stroke-width="2.8" stroke-linecap="round"/>
<path d="M1934.0 1272.6v7.8" fill="none" stroke="#3A3A3A" stroke-width="2.8" stroke-linecap="round"/>
<path d="M1935.0 1272.6v7.8" fill="none" stroke="#3A3A3A" stroke-width="2.8" stroke-linecap="round"/>
<path d="M1936.1 1272.6v7.8" fill="none" stroke="#3A3A3A" stroke-width="2.8" stroke-linecap="round"/>
<path d="M1937.1 1272.6v7.8" fill="none" stroke="#3A3A3A" stroke-width="2.8" stroke-linecap="round"/>
<path d="M1938.2 1272.6v7.8" fill="none" stroke="#3A3A3A" stroke-width="2.8" stroke-linecap="round"/>
<path d="M1939.2 1274.0v7.8" fill="none" stroke="#3A3A3A" stroke-width="2.8" stroke-linecap="round"/>
<path d="M1940.3 1274.0v7.8" fill="none" stroke="#3A3A3A" stroke-width="2.8" stroke-linecap="round"/>
<path d="M1941.3 1274.0v7.8" fill="none" stroke="#3A3A3A" stroke-width="2.8" stroke-linecap="round"/>
<path d="M1942.4 1274.0v7.8" fill="none" stroke="#3A3A3A" stroke-width="2.8" stroke-linecap="round"/>
<path d="M1943.4 1274.0v7.8" fill="none" stroke="#3A3A3A" stroke-width="2.8" stroke-linecap="round"/>
<path d="M1944.5 1274.0v7.8" fill="none" stroke="#3A3A3A" stroke-width="2.8" stroke-linecap="round"/>
<path d="M1945.5 1274.0v7.8" fill="none" stroke="#3A3A3A" stroke-width="2.8" stroke-linecap="round"/>
<path d="M1946.6 1274.0v7.8" fill="none" stroke="#3A3A3A" stroke-width="2.8" stroke-linecap="round"/>
<path d="M1947.6 1276.3v7.8" fill="none" stroke="#3A3A3A" stroke-width="2.8" stroke-linecap="round"/>
<path d="M1948.7 1276.3v7.8" fill="none" stroke="#3A3A3A" stroke-width="2.8" stroke-linecap="round"/>
<path d="M1949.7 1276.3v7.8" fill="none" stroke="#3A3A3A" stroke-width="2.8" stroke-linecap="round"/>
<path d="M1950.8 1276.3v7.8" fill="none" stroke="#3A3A3A" stroke-width="2.8" stroke-linecap="round"/>
<path d="M1951.8 1276.3v7.8" fill="none" stroke="#3A3A3A" stroke-width="2.8" stroke-linecap="round"/>
<path d="M1952.8 1276.3v7.8" fill="none" stroke="#3A3A3A" stroke-width="2.8" stroke-linecap="round"/>
<path d="M1953.9 1276.3v7.8" fill="none" stroke="#3A3A3A" stroke-width="2.8" stroke-linecap="round"/>
<path d="M1954.9 1276.3v7.8" fill="none" stroke="#3A3A3A" stroke-width="2.8" stroke-linecap="round"/>
<path d="M1956.0 1276.3v7.8" fill="none" stroke="#3A3A3A" stroke-width="2.8" stroke-linecap="round"/>
<path d="M1957.0 1276.3v7.8" fill="none" stroke="#3A3A3A" stroke-width="2.8" stroke-linecap="round"/>
<path d="M1958.1 1276.3v7.8" fill="none" stroke="#3A3A3A" stroke-width="2.8" stroke-linecap="round"/>
<path d="M1959.1 1276.3v7.8" fill="none" stroke="#3A3A3A" stroke-width="2.8" stroke-linecap="round"/>
<path d="M1960.2 1276.3v7.8" fill="none" stroke="#3A3A3A" stroke-width="2.8" stroke-linecap="round"/>
<path d="M1961.2 1276.3v7.8" fill="none" stroke="#3A3A3A" stroke-width="2.8" stroke-linecap="round"/>
<path d="M1962.3 1276.3v7.8" fill="none" stroke="#3A3A3A" stroke-width="2.8" stroke-linecap="round"/>
<path d="M1963.3 1276.3v7.8" fill="none" stroke="#3A3A3A" stroke-width="2.8" stroke-linecap="round"/>
<path d="M1964.4 1276.3v7.8" fill="none" stroke="#3A3A3A" stroke-width="2.8" stroke-linecap="round"/>
<path d="M1965.4 1276.3v7.8" fill="none" stroke="#3A3A3A" stroke-width="2.8" stroke-linecap="round"/>
<path d="M1966.5 1276.3v7.8" fill="none" stroke="#3A3A3A" stroke-width="2.8" stroke-linecap="round"/>
<path d="M1967.5 1276.3v7.8" fill="none" stroke="#3A3A3A" stroke-width="2.8" stroke-linecap="round"/>
<line x1="1665.1" y1="1284.0" x2="1980.4" y2="1284.0" stroke="#000" stroke-width="1.8" stroke-dasharray="5.9 6.55"/>
<line x1="1665.1" y1="1302.0" x2="1980.4" y2="1302.0" stroke="#000" stroke-width="1.8" stroke-dasharray="5.9 6.55"/>
<line x1="1665.1" y1="1319.9" x2="1980.4" y2="1319.9" stroke="#000" stroke-width="1.8" stroke-dasharray="5.9 6.55"/>
<text x="1782.6" y="1356.2" font-size="20.7">p=6e-05</text>
<text x="1680.3" y="1402.2" font-size="20.6">SSP ETR stratification</text>
<text x="1680.3" y="1427.0" font-size="20.6">dichotomized for chemotherapy</text>
<rect x="1678.7" y="1442.0" width="14.5" height="12.0" fill="#3A3A3A" rx="1.5"/>
<text x="1706.4" y="1454.0" font-size="20.6">NoCT: n=652 (83%)</text>
<rect x="1678.7" y="1465.4" width="14.5" height="12.0" fill="#F7931E" rx="1.5"/>
<text x="1706.4" y="1477.3" font-size="20.6">ChemoEndo: n=135 (17%)</text>
<text x="-1.6" y="1686.4" font-size="50.5" font-weight="bold">h</text>
<text x="120.5" y="1689.5" font-size="28.9">ER+/HER2-/N0 age &gt;50 ≤70</text>
<rect x="612.8" y="1766.0" width="616.2" height="72.8" fill="#F0F0F0"/>
<rect x="612.8" y="1766.0" width="27.0" height="72.8" fill="#B3B3B3"/>
<rect x="612.8" y="1838.8" width="27.0" height="72.2" fill="#E6E6E6"/>
<rect x="612.8" y="1911.0" width="616.2" height="73.0" fill="#F0F0F0"/>
<rect x="612.8" y="1911.0" width="27.0" height="73.0" fill="#B3B3B3"/>
<line x1="786.7" y1="1800.6" x2="1024.3" y2="1800.6" stroke="#000" stroke-width="4.2"/>
<line x1="786.7" y1="1796.4" x2="786.7" y2="1804.8" stroke="#000" stroke-width="4.6" stroke-linecap="round"/>
<line x1="1024.3" y1="1796.4" x2="1024.3" y2="1804.8" stroke="#000" stroke-width="4.6" stroke-linecap="round"/>
<rect x="896.8" y="1791.8" width="17.6" height="17.6" fill="#000"/>
<text x="1055.5" y="1805.2" font-size="20.6">10 (0.88-113.14)</text>
<line x1="582.3" y1="1801.1" x2="602.3" y2="1801.1" stroke="#000" stroke-width="2.9"/>
<line x1="825.4" y1="1875.2" x2="898.4" y2="1875.2" stroke="#000" stroke-width="4.2"/>
<line x1="825.4" y1="1871.0" x2="825.4" y2="1879.4" stroke="#000" stroke-width="4.6" stroke-linecap="round"/>
<line x1="898.4" y1="1871.0" x2="898.4" y2="1879.4" stroke="#000" stroke-width="4.6" stroke-linecap="round"/>
<rect x="853.1" y="1866.4" width="17.6" height="17.6" fill="#000"/>
<text x="1055.5" y="1879.8" font-size="20.6">4.09 (1.94-8.62)</text>
<line x1="582.3" y1="1875.7" x2="602.3" y2="1875.7" stroke="#000" stroke-width="2.9"/>
<line x1="730.7" y1="1947.0" x2="833.9" y2="1947.0" stroke="#000" stroke-width="4.2"/>
<line x1="730.7" y1="1942.8" x2="730.7" y2="1951.2" stroke="#000" stroke-width="4.6" stroke-linecap="round"/>
<line x1="833.9" y1="1942.8" x2="833.9" y2="1951.2" stroke="#000" stroke-width="4.6" stroke-linecap="round"/>
<rect x="773.3" y="1938.2" width="17.6" height="17.6" fill="#000"/>
<text x="1055.5" y="1951.6" font-size="20.6">0.80 (0.28-2.31)</text>
<line x1="582.3" y1="1947.5" x2="602.3" y2="1947.5" stroke="#000" stroke-width="2.9"/>
<line x1="793.0" y1="1730.5" x2="793.0" y2="2001.5" stroke="#8B0000" stroke-width="3" stroke-linecap="round"/>
<path d="M691.3 2028.5V2010.3H928.6V2028.5" fill="none" stroke="#000" stroke-width="2.9" stroke-linecap="round"/>
<line x1="725.2" y1="2010.3" x2="725.2" y2="2028.5" stroke="#000" stroke-width="2.9" stroke-linecap="round"/>
<line x1="759.1" y1="2010.3" x2="759.1" y2="2028.5" stroke="#000" stroke-width="2.9" stroke-linecap="round"/>
<line x1="793.0" y1="2010.3" x2="793.0" y2="2028.5" stroke="#000" stroke-width="2.9" stroke-linecap="round"/>
<line x1="826.9" y1="2010.3" x2="826.9" y2="2028.5" stroke="#000" stroke-width="2.9" stroke-linecap="round"/>
<line x1="860.8" y1="2010.3" x2="860.8" y2="2028.5" stroke="#000" stroke-width="2.9" stroke-linecap="round"/>
<line x1="894.7" y1="2010.3" x2="894.7" y2="2028.5" stroke="#000" stroke-width="2.9" stroke-linecap="round"/>
<text x="691.8" y="2057.8" font-size="20.2" text-anchor="middle">0.125</text>
<text x="759.6" y="2057.8" font-size="20.2" text-anchor="middle">0.5</text>
<text x="793.0" y="2057.8" font-size="20.2" text-anchor="middle">1</text>
<text x="827.4" y="2057.8" font-size="20.2" text-anchor="middle">2</text>
<text x="861.3" y="2057.8" font-size="20.2" text-anchor="middle">4</text>
<text x="895.2" y="2057.8" font-size="20.2" text-anchor="middle">8</text>
<text x="929.1" y="2057.8" font-size="20.2" text-anchor="middle">16</text>
<text x="799.0" y="1712.0" font-size="24.8" text-anchor="middle" font-weight="bold">Univariable</text>
<text x="801.2" y="2095.8" font-size="20.6" text-anchor="middle">DRFi hazard ratio</text>
<text x="801.2" y="2121.0" font-size="20.6" text-anchor="middle">(95% confidence interval)</text>
<text x="569.5" y="1792.8" font-size="20.6" text-anchor="end" textLength="421.0" lengthAdjust="spacing">SSP ETR stratification (Endo (23%) vs. None)</text>
<text x="563.3" y="1817.9" font-size="20.6" text-anchor="end">in patients with no adjuvant treatment.</text>
<text x="565.0" y="1869.0" font-size="20.6" text-anchor="end">SSP ETR dichotomized for CT (ChemoEndo (17%) vs. NoCT)</text>
<text x="559.0" y="1893.9" font-size="20.6" text-anchor="end">in patients with adjuvant endocrine treatment alone.</text>
<text x="565.0" y="1938.0" font-size="20.6" text-anchor="end">SSP ETR dichotomized for CT (NoCT (35%) vs. ChemoEndo)</text>
<text x="559.0" y="1962.8" font-size="20.6" text-anchor="end">in patients with adjuvant chemo and endocrine treatment.</text>
<text x="1273.6" y="1686.4" font-size="50" font-weight="bold">i</text>
<rect x="1272.3" y="1766.0" width="680.7" height="72.8" fill="#F0F0F0"/>
<rect x="1272.3" y="1766.0" width="27.0" height="72.8" fill="#B3B3B3"/>
<rect x="1272.3" y="1838.8" width="27.0" height="72.2" fill="#E6E6E6"/>
<rect x="1272.3" y="1911.0" width="680.7" height="73.0" fill="#F0F0F0"/>
<rect x="1272.3" y="1911.0" width="27.0" height="73.0" fill="#B3B3B3"/>
<line x1="1449.5" y1="1801.4" x2="1726.9" y2="1801.4" stroke="#000" stroke-width="4.2"/>
<line x1="1449.5" y1="1797.2" x2="1449.5" y2="1805.6" stroke="#000" stroke-width="4.6" stroke-linecap="round"/>
<line x1="1726.9" y1="1797.2" x2="1726.9" y2="1805.6" stroke="#000" stroke-width="4.6" stroke-linecap="round"/>
<rect x="1579.4" y="1792.6" width="17.6" height="17.6" fill="#000"/>
<text x="1753.9" y="1806.0" font-size="20.6">16.04 (0.94-273.28)</text>
<line x1="1237.3" y1="1801.9" x2="1257.3" y2="1801.9" stroke="#000" stroke-width="2.9"/>
<line x1="1464.6" y1="1875.3" x2="1546.4" y2="1875.3" stroke="#000" stroke-width="4.2"/>
<line x1="1464.6" y1="1871.1" x2="1464.6" y2="1879.5" stroke="#000" stroke-width="4.6" stroke-linecap="round"/>
<line x1="1546.4" y1="1871.1" x2="1546.4" y2="1879.5" stroke="#000" stroke-width="4.6" stroke-linecap="round"/>
<rect x="1496.8" y="1866.5" width="17.6" height="17.6" fill="#000"/>
<text x="1753.9" y="1879.9" font-size="20.6">2.96 (1.28-6.82)</text>
<line x1="1237.3" y1="1875.8" x2="1257.3" y2="1875.8" stroke="#000" stroke-width="2.9"/>
<line x1="1402.5" y1="1947.0" x2="1513.6" y2="1947.0" stroke="#000" stroke-width="4.2"/>
<line x1="1402.5" y1="1942.8" x2="1402.5" y2="1951.2" stroke="#000" stroke-width="4.6" stroke-linecap="round"/>
<line x1="1513.6" y1="1942.8" x2="1513.6" y2="1951.2" stroke="#000" stroke-width="4.6" stroke-linecap="round"/>
<rect x="1449.2" y="1938.2" width="17.6" height="17.6" fill="#000"/>
<text x="1753.9" y="1951.6" font-size="20.6">1.12 (0.36-3.49)</text>
<line x1="1237.3" y1="1947.5" x2="1257.3" y2="1947.5" stroke="#000" stroke-width="2.9"/>
<line x1="1452.5" y1="1732.5" x2="1452.5" y2="2003.5" stroke="#8B0000" stroke-width="3" stroke-linecap="round"/>
<path d="M1350.8 2028.5V2010.3H1588.1V2028.5" fill="none" stroke="#000" stroke-width="2.9" stroke-linecap="round"/>
<line x1="1384.7" y1="2010.3" x2="1384.7" y2="2028.5" stroke="#000" stroke-width="2.9" stroke-linecap="round"/>
<line x1="1418.6" y1="2010.3" x2="1418.6" y2="2028.5" stroke="#000" stroke-width="2.9" stroke-linecap="round"/>
<line x1="1452.5" y1="2010.3" x2="1452.5" y2="2028.5" stroke="#000" stroke-width="2.9" stroke-linecap="round"/>
<line x1="1486.4" y1="2010.3" x2="1486.4" y2="2028.5" stroke="#000" stroke-width="2.9" stroke-linecap="round"/>
<line x1="1520.3" y1="2010.3" x2="1520.3" y2="2028.5" stroke="#000" stroke-width="2.9" stroke-linecap="round"/>
<line x1="1554.2" y1="2010.3" x2="1554.2" y2="2028.5" stroke="#000" stroke-width="2.9" stroke-linecap="round"/>
<text x="1351.3" y="2057.8" font-size="20.2" text-anchor="middle">0.125</text>
<text x="1419.1" y="2057.8" font-size="20.2" text-anchor="middle">0.5</text>
<text x="1452.5" y="2057.8" font-size="20.2" text-anchor="middle">1</text>
<text x="1486.9" y="2057.8" font-size="20.2" text-anchor="middle">2</text>
<text x="1520.8" y="2057.8" font-size="20.2" text-anchor="middle">4</text>
<text x="1554.7" y="2057.8" font-size="20.2" text-anchor="middle">8</text>
<text x="1588.6" y="2057.8" font-size="20.2" text-anchor="middle">16</text>
<text x="1531.3" y="1712.0" font-size="24.8" text-anchor="middle" font-weight="bold">Multivariable (Size, Age, NHG)</text>
<text x="1457.7" y="2095.8" font-size="20.6" text-anchor="middle">DRFi hazard ratio</text>
<text x="1457.7" y="2121.0" font-size="20.6" text-anchor="middle">(95% confidence interval)</text>
</svg>
</body></html>
